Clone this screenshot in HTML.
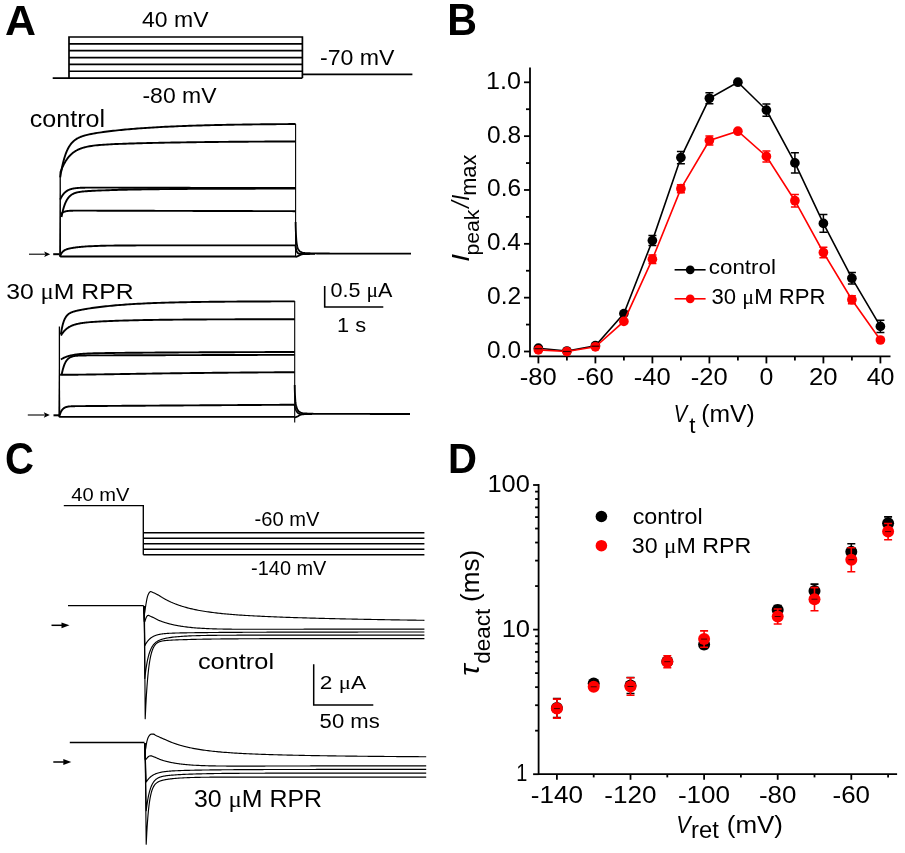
<!DOCTYPE html>
<html><head><meta charset="utf-8"><style>
html,body{margin:0;padding:0;background:#fff;}
svg{display:block;will-change:transform;}
text{font-family:"Liberation Sans", sans-serif;}
</style></head><body>
<svg width="905" height="853" viewBox="0 0 905 853">
<rect width="905" height="853" fill="#fff"/>
<text x="5.13" y="34.80" font-size="42.88" font-weight="bold" font-style="normal" fill="#000" textLength="31.00" lengthAdjust="spacingAndGlyphs">A</text>
<path d="M52.7,78.10 H69 V37 H302.4 V78.10" fill="none" stroke="#000" stroke-width="1.7"/>
<line x1="69.00" y1="43.85" x2="302.40" y2="43.85" stroke="#000" stroke-width="1.7"/>
<line x1="69.00" y1="50.70" x2="302.40" y2="50.70" stroke="#000" stroke-width="1.7"/>
<line x1="69.00" y1="57.55" x2="302.40" y2="57.55" stroke="#000" stroke-width="1.7"/>
<line x1="69.00" y1="64.40" x2="302.40" y2="64.40" stroke="#000" stroke-width="1.7"/>
<line x1="69.00" y1="71.25" x2="302.40" y2="71.25" stroke="#000" stroke-width="1.7"/>
<line x1="69.00" y1="78.10" x2="302.40" y2="78.10" stroke="#000" stroke-width="1.7"/>
<line x1="302.40" y1="74.30" x2="412.40" y2="74.30" stroke="#000" stroke-width="1.7"/>
<text x="142.07" y="27.40" font-size="22.77" font-weight="normal" font-style="normal" fill="#000" textLength="66.43" lengthAdjust="spacingAndGlyphs">40 mV</text>
<text x="142.48" y="102.50" font-size="22.77" font-weight="normal" font-style="normal" fill="#000" textLength="74.02" lengthAdjust="spacingAndGlyphs">-80 mV</text>
<text x="319.97" y="64.50" font-size="22.77" font-weight="normal" font-style="normal" fill="#000" textLength="74.53" lengthAdjust="spacingAndGlyphs">-70 mV</text>
<path d="M60.20,177.46 L60.60,174.99 L61.00,172.67 L61.40,170.50 L61.80,168.45 L62.20,166.53 L62.60,164.73 L63.00,163.03 L63.40,161.44 L63.80,159.94 L64.20,158.53 L64.60,157.20 L65.00,155.95 L65.40,154.78 L65.80,153.67 L66.20,152.63 L66.60,151.65 L67.00,150.73 L67.40,149.85 L67.80,149.03 L68.20,148.26 L68.60,147.53 L69.00,146.84 L69.40,146.19 L69.80,145.57 L70.20,144.99 L70.60,144.44 L71.00,143.92 L71.40,143.43 L71.80,142.96 L72.20,142.52 L72.60,142.10 L73.00,141.71 L73.40,141.33 L73.80,140.97 L74.20,140.63 L74.60,140.31 L75.00,140.00 L75.40,139.71 L75.80,139.43 L76.20,139.17 L76.60,138.91 L77.00,138.67 L77.40,138.44 L77.80,138.22 L78.20,138.01 L78.60,137.80 L79.00,137.61 L79.40,137.42 L79.80,137.25 L80.20,137.07 L80.60,136.91 L81.00,136.75 L81.40,136.60 L81.80,136.45 L82.20,136.31 L82.60,136.17 L83.00,136.03 L83.40,135.91 L83.80,135.78 L84.20,135.66 L84.60,135.54 L85.00,135.43 L85.20,135.37 L87.20,134.85 L89.20,134.40 L91.20,133.98 L93.20,133.61 L95.20,133.26 L97.20,132.93 L99.20,132.62 L101.20,132.33 L103.20,132.05 L105.20,131.78 L107.20,131.52 L109.20,131.28 L111.20,131.04 L113.20,130.81 L115.20,130.58 L117.20,130.37 L119.20,130.16 L121.20,129.96 L123.20,129.76 L125.20,129.57 L127.20,129.39 L129.20,129.21 L131.20,129.04 L133.20,128.87 L135.20,128.71 L137.20,128.55 L139.20,128.40 L141.20,128.25 L143.20,128.11 L145.20,127.97 L147.20,127.84 L149.20,127.71 L151.20,127.58 L153.20,127.46 L155.20,127.34 L157.20,127.23 L159.20,127.12 L161.20,127.01 L163.20,126.90 L165.20,126.80 L167.20,126.70 L169.20,126.61 L171.20,126.52 L173.20,126.43 L175.20,126.34 L177.20,126.26 L179.20,126.17 L181.20,126.09 L183.20,126.02 L185.20,125.94 L187.20,125.87 L189.20,125.80 L191.20,125.73 L193.20,125.67 L195.20,125.61 L197.20,125.54 L199.20,125.48 L201.20,125.43 L203.20,125.37 L205.20,125.32 L207.20,125.26 L209.20,125.21 L211.20,125.16 L213.20,125.11 L215.20,125.07 L217.20,125.02 L219.20,124.98 L221.20,124.94 L223.20,124.90 L225.20,124.86 L227.20,124.82 L229.20,124.78 L231.20,124.74 L233.20,124.71 L235.20,124.67 L237.20,124.64 L239.20,124.61 L241.20,124.58 L243.20,124.55 L245.20,124.52 L247.20,124.49 L249.20,124.46 L251.20,124.44 L253.20,124.41 L255.20,124.39 L257.20,124.36 L259.20,124.34 L261.20,124.32 L263.20,124.29 L265.20,124.27 L267.20,124.25 L269.20,124.23 L271.20,124.21 L273.20,124.19 L275.20,124.18 L277.20,124.16 L279.20,124.14 L281.20,124.12 L283.20,124.11 L285.20,124.09 L287.20,124.08 L289.20,124.06 L291.20,124.05 L293.20,124.03 L295.20,124.02 L295.60,124.02" fill="none" stroke="#000" stroke-width="1.9" stroke-linejoin="round"/>
<path d="M60.50,172.16 L60.90,171.08 L61.30,170.05 L61.70,169.06 L62.10,168.11 L62.50,167.20 L62.90,166.33 L63.30,165.49 L63.70,164.68 L64.10,163.91 L64.50,163.16 L64.90,162.45 L65.30,161.76 L65.70,161.11 L66.10,160.47 L66.50,159.87 L66.90,159.29 L67.30,158.73 L67.70,158.19 L68.10,157.67 L68.50,157.18 L68.90,156.70 L69.30,156.24 L69.70,155.81 L70.10,155.38 L70.50,154.98 L70.90,154.59 L71.30,154.21 L71.70,153.85 L72.10,153.51 L72.50,153.17 L72.90,152.85 L73.30,152.55 L73.70,152.25 L74.10,151.97 L74.50,151.69 L74.90,151.43 L75.30,151.18 L75.70,150.93 L76.10,150.70 L76.50,150.47 L76.90,150.26 L77.30,150.05 L77.70,149.85 L78.10,149.65 L78.50,149.47 L78.90,149.29 L79.30,149.11 L79.70,148.95 L80.10,148.79 L80.50,148.63 L80.90,148.48 L81.30,148.34 L81.70,148.20 L82.10,148.07 L82.50,147.94 L82.90,147.81 L83.30,147.69 L83.70,147.58 L84.10,147.47 L84.50,147.36 L84.90,147.25 L85.30,147.15 L85.50,147.10 L87.50,146.66 L89.50,146.28 L91.50,145.95 L93.50,145.67 L95.50,145.43 L97.50,145.22 L99.50,145.04 L101.50,144.87 L103.50,144.73 L105.50,144.59 L107.50,144.47 L109.50,144.36 L111.50,144.26 L113.50,144.16 L115.50,144.07 L117.50,143.99 L119.50,143.91 L121.50,143.83 L123.50,143.76 L125.50,143.69 L127.50,143.62 L129.50,143.56 L131.50,143.50 L133.50,143.43 L135.50,143.38 L137.50,143.32 L139.50,143.27 L141.50,143.21 L143.50,143.16 L145.50,143.11 L147.50,143.06 L149.50,143.01 L151.50,142.97 L153.50,142.92 L155.50,142.88 L157.50,142.83 L159.50,142.79 L161.50,142.75 L163.50,142.71 L165.50,142.67 L167.50,142.64 L169.50,142.60 L171.50,142.56 L173.50,142.53 L175.50,142.49 L177.50,142.46 L179.50,142.43 L181.50,142.39 L183.50,142.36 L185.50,142.33 L187.50,142.30 L189.50,142.27 L191.50,142.25 L193.50,142.22 L195.50,142.19 L197.50,142.17 L199.50,142.14 L201.50,142.12 L203.50,142.09 L205.50,142.07 L207.50,142.04 L209.50,142.02 L211.50,142.00 L213.50,141.98 L215.50,141.96 L217.50,141.94 L219.50,141.92 L221.50,141.90 L223.50,141.88 L225.50,141.86 L227.50,141.84 L229.50,141.82 L231.50,141.81 L233.50,141.79 L235.50,141.77 L237.50,141.76 L239.50,141.74 L241.50,141.73 L243.50,141.71 L245.50,141.70 L247.50,141.68 L249.50,141.67 L251.50,141.66 L253.50,141.64 L255.50,141.63 L257.50,141.62 L259.50,141.60 L261.50,141.59 L263.50,141.58 L265.50,141.57 L267.50,141.56 L269.50,141.55 L271.50,141.54 L273.50,141.53 L275.50,141.52 L277.50,141.51 L279.50,141.50 L281.50,141.49 L283.50,141.48 L285.50,141.47 L287.50,141.46 L289.50,141.45 L291.50,141.44 L293.50,141.44 L295.50,141.43 L295.60,141.43" fill="none" stroke="#000" stroke-width="1.9" stroke-linejoin="round"/>
<path d="M60.20,199.54 L60.60,198.67 L61.00,197.86 L61.40,197.11 L61.80,196.41 L62.20,195.76 L62.60,195.16 L63.00,194.61 L63.40,194.09 L63.80,193.61 L64.20,193.17 L64.60,192.76 L65.00,192.38 L65.40,192.02 L65.80,191.70 L66.20,191.39 L66.60,191.11 L67.00,190.85 L67.40,190.61 L67.80,190.38 L68.20,190.18 L68.60,189.98 L69.00,189.80 L69.40,189.64 L69.80,189.48 L70.20,189.34 L70.60,189.21 L71.00,189.09 L71.40,188.98 L71.80,188.87 L72.20,188.77 L72.60,188.68 L73.00,188.60 L73.40,188.52 L73.80,188.45 L74.20,188.39 L74.60,188.32 L75.00,188.27 L75.40,188.22 L75.80,188.17 L76.20,188.12 L76.60,188.08 L77.00,188.04 L77.40,188.01 L77.80,187.97 L78.20,187.94 L78.60,187.92 L79.00,187.89 L79.40,187.87 L79.80,187.84 L80.20,187.82 L80.60,187.80 L81.00,187.79 L81.40,187.77 L81.80,187.76 L82.20,187.74 L82.60,187.73 L83.00,187.72 L83.40,187.71 L83.80,187.70 L84.20,187.69 L84.60,187.68 L85.00,187.68 L85.20,187.67 L87.20,187.65 L89.20,187.63 L91.20,187.62 L93.20,187.62 L95.20,187.62 L97.20,187.62 L99.20,187.62 L101.20,187.63 L103.20,187.63 L105.20,187.64 L107.20,187.64 L109.20,187.65 L111.20,187.65 L113.20,187.66 L115.20,187.66 L117.20,187.67 L119.20,187.68 L121.20,187.68 L123.20,187.69 L125.20,187.69 L127.20,187.70 L129.20,187.70 L131.20,187.71 L133.20,187.71 L135.20,187.72 L137.20,187.72 L139.20,187.73 L141.20,187.73 L143.20,187.74 L145.20,187.74 L147.20,187.75 L149.20,187.75 L151.20,187.76 L153.20,187.76 L155.20,187.76 L157.20,187.77 L159.20,187.77 L161.20,187.78 L163.20,187.78 L165.20,187.78 L167.20,187.79 L169.20,187.79 L171.20,187.79 L173.20,187.80 L175.20,187.80 L177.20,187.80 L179.20,187.81 L181.20,187.81 L183.20,187.81 L185.20,187.82 L187.20,187.82 L189.20,187.82 L191.20,187.83 L193.20,187.83 L195.20,187.83 L197.20,187.83 L199.20,187.84 L201.20,187.84 L203.20,187.84 L205.20,187.84 L207.20,187.85 L209.20,187.85 L211.20,187.85 L213.20,187.85 L215.20,187.86 L217.20,187.86 L219.20,187.86 L221.20,187.86 L223.20,187.87 L225.20,187.87 L227.20,187.87 L229.20,187.87 L231.20,187.87 L233.20,187.88 L235.20,187.88 L237.20,187.88 L239.20,187.88 L241.20,187.88 L243.20,187.89 L245.20,187.89 L247.20,187.89 L249.20,187.89 L251.20,187.89 L253.20,187.89 L255.20,187.90 L257.20,187.90 L259.20,187.90 L261.20,187.90 L263.20,187.90 L265.20,187.90 L267.20,187.90 L269.20,187.91 L271.20,187.91 L273.20,187.91 L275.20,187.91 L277.20,187.91 L279.20,187.91 L281.20,187.91 L283.20,187.92 L285.20,187.92 L287.20,187.92 L289.20,187.92 L291.20,187.92 L293.20,187.92 L295.20,187.92 L295.60,187.92" fill="none" stroke="#000" stroke-width="1.9" stroke-linejoin="round"/>
<path d="M61.50,216.99 L61.90,214.96 L62.30,213.10 L62.70,211.38 L63.10,209.81 L63.50,208.36 L63.90,207.03 L64.30,205.81 L64.70,204.68 L65.10,203.64 L65.50,202.69 L65.90,201.81 L66.30,201.00 L66.70,200.26 L67.10,199.57 L67.50,198.94 L67.90,198.36 L68.30,197.82 L68.70,197.33 L69.10,196.87 L69.50,196.45 L69.90,196.07 L70.30,195.71 L70.70,195.38 L71.10,195.07 L71.50,194.79 L71.90,194.53 L72.30,194.28 L72.70,194.06 L73.10,193.85 L73.50,193.66 L73.90,193.48 L74.30,193.32 L74.70,193.16 L75.10,193.02 L75.50,192.89 L75.90,192.76 L76.30,192.65 L76.70,192.54 L77.10,192.44 L77.50,192.34 L77.90,192.25 L78.30,192.17 L78.70,192.09 L79.10,192.02 L79.50,191.95 L79.90,191.89 L80.30,191.82 L80.70,191.77 L81.10,191.71 L81.50,191.66 L81.90,191.61 L82.30,191.56 L82.70,191.52 L83.10,191.48 L83.50,191.44 L83.90,191.40 L84.30,191.36 L84.70,191.33 L85.10,191.29 L85.50,191.26 L85.90,191.23 L86.30,191.20 L86.50,191.18 L88.50,191.05 L90.50,190.93 L92.50,190.82 L94.50,190.73 L96.50,190.64 L98.50,190.55 L100.50,190.48 L102.50,190.40 L104.50,190.33 L106.50,190.26 L108.50,190.20 L110.50,190.13 L112.50,190.07 L114.50,190.02 L116.50,189.96 L118.50,189.91 L120.50,189.86 L122.50,189.81 L124.50,189.76 L126.50,189.72 L128.50,189.67 L130.50,189.63 L132.50,189.59 L134.50,189.55 L136.50,189.52 L138.50,189.48 L140.50,189.45 L142.50,189.41 L144.50,189.38 L146.50,189.35 L148.50,189.32 L150.50,189.29 L152.50,189.26 L154.50,189.24 L156.50,189.21 L158.50,189.19 L160.50,189.17 L162.50,189.14 L164.50,189.12 L166.50,189.10 L168.50,189.08 L170.50,189.06 L172.50,189.04 L174.50,189.03 L176.50,189.01 L178.50,188.99 L180.50,188.98 L182.50,188.96 L184.50,188.95 L186.50,188.93 L188.50,188.92 L190.50,188.91 L192.50,188.90 L194.50,188.88 L196.50,188.87 L198.50,188.86 L200.50,188.85 L202.50,188.84 L204.50,188.83 L206.50,188.82 L208.50,188.81 L210.50,188.80 L212.50,188.80 L214.50,188.79 L216.50,188.78 L218.50,188.77 L220.50,188.76 L222.50,188.76 L224.50,188.75 L226.50,188.74 L228.50,188.74 L230.50,188.73 L232.50,188.73 L234.50,188.72 L236.50,188.72 L238.50,188.71 L240.50,188.71 L242.50,188.70 L244.50,188.70 L246.50,188.69 L248.50,188.69 L250.50,188.69 L252.50,188.68 L254.50,188.68 L256.50,188.67 L258.50,188.67 L260.50,188.67 L262.50,188.66 L264.50,188.66 L266.50,188.66 L268.50,188.66 L270.50,188.65 L272.50,188.65 L274.50,188.65 L276.50,188.65 L278.50,188.64 L280.50,188.64 L282.50,188.64 L284.50,188.64 L286.50,188.63 L288.50,188.63 L290.50,188.63 L292.50,188.63 L294.50,188.63 L295.60,188.63" fill="none" stroke="#000" stroke-width="1.9" stroke-linejoin="round"/>
<path d="M60.80,214.37 L61.20,213.89 L61.60,213.48 L62.00,213.12 L62.40,212.80 L62.80,212.52 L63.20,212.28 L63.60,212.07 L64.00,211.88 L64.40,211.72 L64.80,211.58 L65.20,211.46 L65.60,211.35 L66.00,211.25 L66.40,211.17 L66.80,211.10 L67.20,211.04 L67.60,210.98 L68.00,210.94 L68.40,210.89 L68.80,210.86 L69.20,210.83 L69.60,210.80 L70.00,210.78 L70.40,210.75 L70.80,210.74 L71.20,210.72 L71.60,210.71 L72.00,210.70 L72.40,210.69 L72.80,210.68 L73.20,210.67 L73.60,210.66 L74.00,210.66 L74.40,210.65 L74.80,210.65 L75.20,210.65 L75.60,210.64 L76.00,210.64 L76.40,210.64 L76.80,210.64 L77.20,210.64 L77.60,210.64 L78.00,210.64 L78.40,210.64 L78.80,210.63 L79.20,210.63 L79.60,210.63 L80.00,210.64 L80.40,210.64 L80.80,210.64 L81.20,210.64 L81.60,210.64 L82.00,210.64 L82.40,210.64 L82.80,210.64 L83.20,210.64 L83.60,210.64 L84.00,210.64 L84.40,210.64 L84.80,210.64 L85.20,210.64 L85.60,210.65 L85.80,210.65 L87.80,210.65 L89.80,210.66 L91.80,210.66 L93.80,210.67 L95.80,210.67 L97.80,210.68 L99.80,210.68 L101.80,210.69 L103.80,210.69 L105.80,210.70 L107.80,210.70 L109.80,210.71 L111.80,210.71 L113.80,210.72 L115.80,210.72 L117.80,210.73 L119.80,210.74 L121.80,210.74 L123.80,210.75 L125.80,210.75 L127.80,210.76 L129.80,210.76 L131.80,210.77 L133.80,210.77 L135.80,210.78 L137.80,210.78 L139.80,210.79 L141.80,210.79 L143.80,210.80 L145.80,210.80 L147.80,210.81 L149.80,210.81 L151.80,210.82 L153.80,210.82 L155.80,210.83 L157.80,210.83 L159.80,210.84 L161.80,210.85 L163.80,210.85 L165.80,210.86 L167.80,210.86 L169.80,210.87 L171.80,210.87 L173.80,210.88 L175.80,210.88 L177.80,210.89 L179.80,210.89 L181.80,210.90 L183.80,210.90 L185.80,210.91 L187.80,210.91 L189.80,210.92 L191.80,210.92 L193.80,210.93 L195.80,210.93 L197.80,210.94 L199.80,210.94 L201.80,210.95 L203.80,210.95 L205.80,210.96 L207.80,210.96 L209.80,210.97 L211.80,210.97 L213.80,210.98 L215.80,210.98 L217.80,210.99 L219.80,210.99 L221.80,211.00 L223.80,211.00 L225.80,211.01 L227.80,211.01 L229.80,211.02 L231.80,211.02 L233.80,211.03 L235.80,211.03 L237.80,211.04 L239.80,211.04 L241.80,211.05 L243.80,211.05 L245.80,211.06 L247.80,211.06 L249.80,211.07 L251.80,211.07 L253.80,211.08 L255.80,211.08 L257.80,211.09 L259.80,211.09 L261.80,211.10 L263.80,211.10 L265.80,211.11 L267.80,211.11 L269.80,211.12 L271.80,211.12 L273.80,211.13 L275.80,211.13 L277.80,211.14 L279.80,211.14 L281.80,211.15 L283.80,211.15 L285.80,211.16 L287.80,211.16 L289.80,211.17 L291.80,211.17 L293.80,211.18 L295.60,211.18" fill="none" stroke="#000" stroke-width="1.9" stroke-linejoin="round"/>
<path d="M60.00,256.29 L60.40,255.31 L60.80,254.46 L61.20,253.73 L61.60,253.09 L62.00,252.54 L62.40,252.06 L62.80,251.63 L63.20,251.26 L63.60,250.93 L64.00,250.64 L64.40,250.38 L64.80,250.15 L65.20,249.94 L65.60,249.75 L66.00,249.57 L66.40,249.41 L66.80,249.27 L67.20,249.13 L67.60,249.01 L68.00,248.89 L68.40,248.78 L68.80,248.68 L69.20,248.58 L69.60,248.48 L70.00,248.40 L70.40,248.31 L70.80,248.23 L71.20,248.16 L71.60,248.08 L72.00,248.01 L72.40,247.94 L72.80,247.88 L73.20,247.81 L73.60,247.75 L74.00,247.69 L74.40,247.63 L74.80,247.57 L75.20,247.52 L75.60,247.47 L76.00,247.41 L76.40,247.36 L76.80,247.31 L77.20,247.27 L77.60,247.22 L78.00,247.17 L78.40,247.13 L78.80,247.09 L79.20,247.05 L79.60,247.00 L80.00,246.96 L80.40,246.93 L80.80,246.89 L81.20,246.85 L81.60,246.81 L82.00,246.78 L82.40,246.75 L82.80,246.71 L83.20,246.68 L83.60,246.65 L84.00,246.62 L84.40,246.59 L84.80,246.56 L85.00,246.54 L87.00,246.41 L89.00,246.29 L91.00,246.18 L93.00,246.09 L95.00,246.00 L97.00,245.93 L99.00,245.87 L101.00,245.81 L103.00,245.76 L105.00,245.71 L107.00,245.67 L109.00,245.64 L111.00,245.61 L113.00,245.58 L115.00,245.56 L117.00,245.54 L119.00,245.52 L121.00,245.50 L123.00,245.49 L125.00,245.47 L127.00,245.46 L129.00,245.45 L131.00,245.44 L133.00,245.43 L135.00,245.43 L137.00,245.42 L139.00,245.42 L141.00,245.41 L143.00,245.41 L145.00,245.40 L147.00,245.40 L149.00,245.40 L151.00,245.39 L153.00,245.39 L155.00,245.39 L157.00,245.39 L159.00,245.39 L161.00,245.38 L163.00,245.38 L165.00,245.38 L167.00,245.38 L169.00,245.38 L171.00,245.38 L173.00,245.38 L175.00,245.38 L177.00,245.38 L179.00,245.38 L181.00,245.38 L183.00,245.38 L185.00,245.38 L187.00,245.38 L189.00,245.38 L191.00,245.38 L193.00,245.37 L195.00,245.37 L197.00,245.37 L199.00,245.37 L201.00,245.37 L203.00,245.37 L205.00,245.37 L207.00,245.37 L209.00,245.37 L211.00,245.37 L213.00,245.37 L215.00,245.37 L217.00,245.37 L219.00,245.37 L221.00,245.37 L223.00,245.37 L225.00,245.37 L227.00,245.37 L229.00,245.37 L231.00,245.37 L233.00,245.37 L235.00,245.37 L237.00,245.37 L239.00,245.37 L241.00,245.37 L243.00,245.37 L245.00,245.37 L247.00,245.37 L249.00,245.37 L251.00,245.37 L253.00,245.37 L255.00,245.37 L257.00,245.37 L259.00,245.37 L261.00,245.37 L263.00,245.37 L265.00,245.37 L267.00,245.37 L269.00,245.37 L271.00,245.37 L273.00,245.37 L275.00,245.37 L277.00,245.37 L279.00,245.37 L281.00,245.37 L283.00,245.37 L285.00,245.37 L287.00,245.37 L289.00,245.37 L291.00,245.37 L293.00,245.37 L295.00,245.37 L295.60,245.37" fill="none" stroke="#000" stroke-width="1.9" stroke-linejoin="round"/>
<line x1="60.20" y1="256.50" x2="295.60" y2="256.50" stroke="#000" stroke-width="1.9"/>
<path d="M59.30,256.50 L60.20,171.80 L61.10,256.50 Z" fill="#000"/>
<line x1="60.20" y1="257.00" x2="60.20" y2="171.80" stroke="#000" stroke-width="1.3"/>
<line x1="295.60" y1="124.10" x2="295.60" y2="257.30" stroke="#000" stroke-width="1.1"/>
<path d="M295.60,222.00 L295.60,223.02 L295.61,224.03 L295.63,225.04 L295.65,226.06 L295.67,227.07 L295.71,228.08 L295.74,229.09 L295.78,230.10 L295.82,231.11 L295.87,232.12 L295.92,233.13 L295.97,234.14 L296.03,235.15 L296.09,236.15 L296.15,237.16 L296.21,238.16 L296.28,239.18 L296.36,240.21 L296.46,241.23 L296.57,242.26 L296.70,243.29 L296.85,244.30 L297.02,245.29 L297.21,246.26 L297.43,247.20 L297.70,248.15 L298.13,249.14 L298.69,250.10 L299.33,250.92 L300.01,251.51 L300.79,251.93 L301.73,252.30 L302.76,252.61 L303.82,252.85 L304.85,252.99 L305.84,253.06 L306.84,253.12 L307.83,253.18 L308.84,253.23 L309.85,253.27 L310.86,253.32 L311.87,253.35 L312.89,253.39 L313.91,253.42 L314.93,253.44 L315.94,253.46 L316.96,253.48 L317.98,253.49 L318.99,253.50 L320.01,253.50 L321.02,253.50 L322.03,253.51 L323.04,253.51 L324.05,253.51 L325.06,253.51 L326.07,253.52 L327.08,253.52 L328.09,253.52 L329.10,253.52 L330.11,253.53 L331.12,253.53 L332.14,253.53 L333.15,253.53 L334.16,253.53 L335.17,253.54 L336.18,253.54 L337.19,253.54 L338.20,253.54 L339.21,253.54 L340.22,253.55 L341.23,253.55 L342.24,253.55 L343.25,253.55 L344.26,253.55 L345.28,253.56 L346.29,253.56 L347.30,253.56 L348.31,253.56 L349.32,253.56 L350.33,253.56 L351.34,253.56 L352.35,253.57 L353.36,253.57 L354.37,253.57 L355.38,253.57 L356.40,253.57 L357.41,253.57 L358.42,253.57 L359.43,253.57 L360.44,253.58 L361.45,253.58 L362.46,253.58 L363.47,253.58 L364.48,253.58 L365.49,253.58 L366.51,253.58 L367.52,253.58 L368.53,253.58 L369.54,253.58 L370.55,253.59 L371.56,253.59 L372.57,253.59 L373.58,253.59 L374.59,253.59 L375.60,253.59 L376.62,253.59 L377.63,253.59 L378.64,253.59 L379.65,253.59 L380.66,253.59 L381.67,253.59 L382.68,253.59 L383.69,253.59 L384.70,253.59 L385.72,253.60 L386.73,253.60 L387.74,253.60 L388.75,253.60 L389.76,253.60 L390.77,253.60 L391.78,253.60 L392.79,253.60 L393.81,253.60 L394.82,253.60 L395.83,253.60 L396.84,253.60 L397.85,253.60 L398.86,253.60 L399.87,253.60 L400.89,253.60 L401.90,253.60 L402.91,253.60 L403.92,253.60 L404.93,253.60 L405.94,253.60 L406.95,253.60 L407.97,253.60 L408.98,253.60 L409.99,253.60 L411.00,253.60" fill="none" stroke="#000" stroke-width="1.8"/>
<path d="M295.60,246.00 L295.65,247.17 L295.80,248.28 L296.01,249.33 L296.29,250.33 L296.61,251.28 L297.17,252.32 L297.94,253.19 L298.78,253.57 L299.76,253.75 L300.87,253.89 L302.02,253.98 L303.13,254.00 L304.21,254.00 L305.29,254.00 L306.36,254.00 L307.44,253.99 L308.52,253.98 L309.60,253.97 L310.67,253.95 L311.75,253.92 L312.84,253.89 L313.92,253.85 L315.00,253.80" fill="none" stroke="#000" stroke-width="1.8"/>
<path d="M295.60,257.00 L296.66,256.56 L297.73,256.12 L298.78,255.63 L299.83,255.08 L300.88,254.59 L301.96,254.30 L303.06,254.18 L304.18,254.07 L305.31,253.97 L306.46,253.90 L307.62,253.85 L308.80,253.81 L310.00,253.80" fill="none" stroke="#000" stroke-width="1.8"/>
<line x1="29.00" y1="254.20" x2="45.20" y2="254.20" stroke="#000" stroke-width="1.1"/>
<path d="M50.20,254.20 L44.20,251.40 L45.40,254.20 L44.20,257.00 Z" fill="#000"/>
<line x1="53.20" y1="254.20" x2="59.50" y2="254.20" stroke="#000" stroke-width="2.0"/>
<text x="29.84" y="126.60" font-size="24.15" font-weight="normal" font-style="normal" fill="#000" textLength="75.24" lengthAdjust="spacingAndGlyphs">control</text>
<path d="M60.90,334.11 L61.30,331.58 L61.70,329.34 L62.10,327.37 L62.50,325.63 L62.90,324.09 L63.30,322.73 L63.70,321.52 L64.10,320.45 L64.50,319.50 L64.90,318.66 L65.30,317.90 L65.70,317.23 L66.10,316.63 L66.50,316.09 L66.90,315.61 L67.30,315.17 L67.70,314.78 L68.10,314.42 L68.50,314.10 L68.90,313.80 L69.30,313.53 L69.70,313.28 L70.10,313.06 L70.50,312.85 L70.90,312.65 L71.30,312.47 L71.70,312.30 L72.10,312.14 L72.50,311.99 L72.90,311.85 L73.30,311.72 L73.70,311.59 L74.10,311.47 L74.50,311.35 L74.90,311.24 L75.30,311.13 L75.70,311.03 L76.10,310.93 L76.50,310.83 L76.90,310.73 L77.30,310.64 L77.70,310.55 L78.10,310.46 L78.50,310.37 L78.90,310.29 L79.30,310.21 L79.70,310.12 L80.10,310.04 L80.50,309.96 L80.90,309.89 L81.30,309.81 L81.70,309.73 L82.10,309.66 L82.50,309.58 L82.90,309.51 L83.30,309.44 L83.70,309.37 L84.10,309.30 L84.50,309.23 L84.90,309.16 L85.30,309.09 L85.70,309.02 L85.90,308.99 L87.90,308.66 L89.90,308.35 L91.90,308.05 L93.90,307.76 L95.90,307.49 L97.90,307.23 L99.90,306.98 L101.90,306.74 L103.90,306.51 L105.90,306.29 L107.90,306.08 L109.90,305.88 L111.90,305.68 L113.90,305.50 L115.90,305.32 L117.90,305.15 L119.90,304.99 L121.90,304.83 L123.90,304.68 L125.90,304.54 L127.90,304.40 L129.90,304.27 L131.90,304.14 L133.90,304.02 L135.90,303.91 L137.90,303.80 L139.90,303.69 L141.90,303.59 L143.90,303.49 L145.90,303.40 L147.90,303.31 L149.90,303.22 L151.90,303.14 L153.90,303.06 L155.90,302.99 L157.90,302.92 L159.90,302.85 L161.90,302.78 L163.90,302.72 L165.90,302.66 L167.90,302.60 L169.90,302.54 L171.90,302.49 L173.90,302.44 L175.90,302.39 L177.90,302.34 L179.90,302.30 L181.90,302.26 L183.90,302.22 L185.90,302.18 L187.90,302.14 L189.90,302.10 L191.90,302.07 L193.90,302.03 L195.90,302.00 L197.90,301.97 L199.90,301.94 L201.90,301.92 L203.90,301.89 L205.90,301.86 L207.90,301.84 L209.90,301.82 L211.90,301.79 L213.90,301.77 L215.90,301.75 L217.90,301.73 L219.90,301.71 L221.90,301.69 L223.90,301.68 L225.90,301.66 L227.90,301.64 L229.90,301.63 L231.90,301.61 L233.90,301.60 L235.90,301.59 L237.90,301.57 L239.90,301.56 L241.90,301.55 L243.90,301.54 L245.90,301.53 L247.90,301.52 L249.90,301.51 L251.90,301.50 L253.90,301.49 L255.90,301.48 L257.90,301.47 L259.90,301.46 L261.90,301.46 L263.90,301.45 L265.90,301.44 L267.90,301.44 L269.90,301.43 L271.90,301.42 L273.90,301.42 L275.90,301.41 L277.90,301.41 L279.90,301.40 L281.90,301.40 L283.90,301.39 L285.90,301.39 L287.90,301.38 L289.90,301.38 L291.90,301.37 L293.90,301.37 L294.70,301.37" fill="none" stroke="#000" stroke-width="1.9" stroke-linejoin="round"/>
<path d="M60.90,335.58 L61.30,334.92 L61.70,334.29 L62.10,333.70 L62.50,333.13 L62.90,332.60 L63.30,332.09 L63.70,331.61 L64.10,331.15 L64.50,330.72 L64.90,330.31 L65.30,329.92 L65.70,329.54 L66.10,329.19 L66.50,328.86 L66.90,328.54 L67.30,328.24 L67.70,327.95 L68.10,327.68 L68.50,327.42 L68.90,327.17 L69.30,326.93 L69.70,326.71 L70.10,326.49 L70.50,326.29 L70.90,326.10 L71.30,325.91 L71.70,325.74 L72.10,325.57 L72.50,325.41 L72.90,325.25 L73.30,325.11 L73.70,324.97 L74.10,324.83 L74.50,324.70 L74.90,324.58 L75.30,324.46 L75.70,324.35 L76.10,324.24 L76.50,324.14 L76.90,324.04 L77.30,323.95 L77.70,323.85 L78.10,323.77 L78.50,323.68 L78.90,323.60 L79.30,323.52 L79.70,323.45 L80.10,323.38 L80.50,323.31 L80.90,323.24 L81.30,323.17 L81.70,323.11 L82.10,323.05 L82.50,322.99 L82.90,322.93 L83.30,322.88 L83.70,322.83 L84.10,322.77 L84.50,322.73 L84.90,322.68 L85.30,322.63 L85.70,322.58 L85.90,322.56 L87.90,322.35 L89.90,322.17 L91.90,322.01 L93.90,321.86 L95.90,321.73 L97.90,321.61 L99.90,321.49 L101.90,321.39 L103.90,321.29 L105.90,321.19 L107.90,321.11 L109.90,321.02 L111.90,320.94 L113.90,320.87 L115.90,320.80 L117.90,320.73 L119.90,320.66 L121.90,320.60 L123.90,320.54 L125.90,320.48 L127.90,320.43 L129.90,320.38 L131.90,320.33 L133.90,320.28 L135.90,320.24 L137.90,320.19 L139.90,320.15 L141.90,320.11 L143.90,320.07 L145.90,320.03 L147.90,320.00 L149.90,319.97 L151.90,319.93 L153.90,319.90 L155.90,319.87 L157.90,319.85 L159.90,319.82 L161.90,319.79 L163.90,319.77 L165.90,319.74 L167.90,319.72 L169.90,319.70 L171.90,319.68 L173.90,319.66 L175.90,319.64 L177.90,319.62 L179.90,319.60 L181.90,319.59 L183.90,319.57 L185.90,319.55 L187.90,319.54 L189.90,319.53 L191.90,319.51 L193.90,319.50 L195.90,319.49 L197.90,319.48 L199.90,319.46 L201.90,319.45 L203.90,319.44 L205.90,319.43 L207.90,319.42 L209.90,319.41 L211.90,319.41 L213.90,319.40 L215.90,319.39 L217.90,319.38 L219.90,319.37 L221.90,319.37 L223.90,319.36 L225.90,319.35 L227.90,319.35 L229.90,319.34 L231.90,319.34 L233.90,319.33 L235.90,319.32 L237.90,319.32 L239.90,319.31 L241.90,319.31 L243.90,319.31 L245.90,319.30 L247.90,319.30 L249.90,319.29 L251.90,319.29 L253.90,319.29 L255.90,319.28 L257.90,319.28 L259.90,319.28 L261.90,319.27 L263.90,319.27 L265.90,319.27 L267.90,319.27 L269.90,319.26 L271.90,319.26 L273.90,319.26 L275.90,319.26 L277.90,319.25 L279.90,319.25 L281.90,319.25 L283.90,319.25 L285.90,319.25 L287.90,319.25 L289.90,319.24 L291.90,319.24 L293.90,319.24 L294.70,319.24" fill="none" stroke="#000" stroke-width="1.9" stroke-linejoin="round"/>
<path d="M60.90,359.49 L61.30,359.23 L61.70,358.98 L62.10,358.75 L62.50,358.52 L62.90,358.30 L63.30,358.09 L63.70,357.89 L64.10,357.70 L64.50,357.51 L64.90,357.34 L65.30,357.17 L65.70,357.01 L66.10,356.85 L66.50,356.70 L66.90,356.56 L67.30,356.42 L67.70,356.29 L68.10,356.16 L68.50,356.04 L68.90,355.93 L69.30,355.82 L69.70,355.71 L70.10,355.61 L70.50,355.51 L70.90,355.41 L71.30,355.32 L71.70,355.24 L72.10,355.15 L72.50,355.07 L72.90,355.00 L73.30,354.92 L73.70,354.85 L74.10,354.79 L74.50,354.72 L74.90,354.66 L75.30,354.60 L75.70,354.54 L76.10,354.48 L76.50,354.43 L76.90,354.38 L77.30,354.33 L77.70,354.28 L78.10,354.24 L78.50,354.19 L78.90,354.15 L79.30,354.11 L79.70,354.07 L80.10,354.03 L80.50,354.00 L80.90,353.96 L81.30,353.93 L81.70,353.90 L82.10,353.87 L82.50,353.84 L82.90,353.81 L83.30,353.78 L83.70,353.75 L84.10,353.73 L84.50,353.70 L84.90,353.68 L85.30,353.65 L85.70,353.63 L85.90,353.62 L87.90,353.52 L89.90,353.43 L91.90,353.36 L93.90,353.30 L95.90,353.24 L97.90,353.20 L99.90,353.15 L101.90,353.12 L103.90,353.08 L105.90,353.05 L107.90,353.02 L109.90,352.99 L111.90,352.97 L113.90,352.94 L115.90,352.92 L117.90,352.90 L119.90,352.88 L121.90,352.85 L123.90,352.83 L125.90,352.82 L127.90,352.80 L129.90,352.78 L131.90,352.76 L133.90,352.74 L135.90,352.73 L137.90,352.71 L139.90,352.69 L141.90,352.68 L143.90,352.66 L145.90,352.65 L147.90,352.63 L149.90,352.62 L151.90,352.60 L153.90,352.59 L155.90,352.57 L157.90,352.56 L159.90,352.55 L161.90,352.53 L163.90,352.52 L165.90,352.51 L167.90,352.49 L169.90,352.48 L171.90,352.47 L173.90,352.46 L175.90,352.45 L177.90,352.43 L179.90,352.42 L181.90,352.41 L183.90,352.40 L185.90,352.39 L187.90,352.38 L189.90,352.37 L191.90,352.36 L193.90,352.35 L195.90,352.34 L197.90,352.33 L199.90,352.32 L201.90,352.31 L203.90,352.30 L205.90,352.29 L207.90,352.28 L209.90,352.27 L211.90,352.26 L213.90,352.25 L215.90,352.25 L217.90,352.24 L219.90,352.23 L221.90,352.22 L223.90,352.21 L225.90,352.21 L227.90,352.20 L229.90,352.19 L231.90,352.18 L233.90,352.18 L235.90,352.17 L237.90,352.16 L239.90,352.15 L241.90,352.15 L243.90,352.14 L245.90,352.13 L247.90,352.13 L249.90,352.12 L251.90,352.12 L253.90,352.11 L255.90,352.10 L257.90,352.10 L259.90,352.09 L261.90,352.09 L263.90,352.08 L265.90,352.07 L267.90,352.07 L269.90,352.06 L271.90,352.06 L273.90,352.05 L275.90,352.05 L277.90,352.04 L279.90,352.04 L281.90,352.03 L283.90,352.03 L285.90,352.02 L287.90,352.02 L289.90,352.01 L291.90,352.01 L293.90,352.01 L294.70,352.00" fill="none" stroke="#000" stroke-width="1.9" stroke-linejoin="round"/>
<path d="M61.60,375.06 L62.00,373.05 L62.40,371.24 L62.80,369.61 L63.20,368.16 L63.60,366.85 L64.00,365.68 L64.40,364.62 L64.80,363.68 L65.20,362.83 L65.60,362.07 L66.00,361.39 L66.40,360.78 L66.80,360.23 L67.20,359.74 L67.60,359.30 L68.00,358.90 L68.40,358.55 L68.80,358.23 L69.20,357.94 L69.60,357.68 L70.00,357.45 L70.40,357.24 L70.80,357.06 L71.20,356.89 L71.60,356.74 L72.00,356.61 L72.40,356.49 L72.80,356.38 L73.20,356.28 L73.60,356.19 L74.00,356.11 L74.40,356.04 L74.80,355.98 L75.20,355.92 L75.60,355.87 L76.00,355.83 L76.40,355.78 L76.80,355.75 L77.20,355.71 L77.60,355.68 L78.00,355.66 L78.40,355.63 L78.80,355.61 L79.20,355.59 L79.60,355.57 L80.00,355.55 L80.40,355.54 L80.80,355.53 L81.20,355.51 L81.60,355.50 L82.00,355.49 L82.40,355.48 L82.80,355.48 L83.20,355.47 L83.60,355.46 L84.00,355.46 L84.40,355.45 L84.80,355.44 L85.20,355.44 L85.60,355.43 L86.00,355.43 L86.40,355.43 L86.60,355.42 L88.60,355.41 L90.60,355.40 L92.60,355.39 L94.60,355.38 L96.60,355.38 L98.60,355.37 L100.60,355.36 L102.60,355.36 L104.60,355.35 L106.60,355.34 L108.60,355.34 L110.60,355.33 L112.60,355.33 L114.60,355.32 L116.60,355.32 L118.60,355.31 L120.60,355.30 L122.60,355.30 L124.60,355.29 L126.60,355.29 L128.60,355.28 L130.60,355.28 L132.60,355.27 L134.60,355.26 L136.60,355.26 L138.60,355.25 L140.60,355.25 L142.60,355.24 L144.60,355.24 L146.60,355.23 L148.60,355.22 L150.60,355.22 L152.60,355.21 L154.60,355.21 L156.60,355.20 L158.60,355.20 L160.60,355.19 L162.60,355.19 L164.60,355.18 L166.60,355.17 L168.60,355.17 L170.60,355.16 L172.60,355.16 L174.60,355.15 L176.60,355.15 L178.60,355.14 L180.60,355.13 L182.60,355.13 L184.60,355.12 L186.60,355.12 L188.60,355.11 L190.60,355.11 L192.60,355.10 L194.60,355.10 L196.60,355.09 L198.60,355.08 L200.60,355.08 L202.60,355.07 L204.60,355.07 L206.60,355.06 L208.60,355.06 L210.60,355.05 L212.60,355.05 L214.60,355.04 L216.60,355.04 L218.60,355.03 L220.60,355.02 L222.60,355.02 L224.60,355.01 L226.60,355.01 L228.60,355.00 L230.60,355.00 L232.60,354.99 L234.60,354.99 L236.60,354.98 L238.60,354.98 L240.60,354.97 L242.60,354.96 L244.60,354.96 L246.60,354.95 L248.60,354.95 L250.60,354.94 L252.60,354.94 L254.60,354.93 L256.60,354.93 L258.60,354.92 L260.60,354.92 L262.60,354.91 L264.60,354.91 L266.60,354.90 L268.60,354.89 L270.60,354.89 L272.60,354.88 L274.60,354.88 L276.60,354.87 L278.60,354.87 L280.60,354.86 L282.60,354.86 L284.60,354.85 L286.60,354.85 L288.60,354.84 L290.60,354.84 L292.60,354.83 L294.60,354.83 L294.70,354.83" fill="none" stroke="#000" stroke-width="1.9" stroke-linejoin="round"/>
<path d="M60.10,374.82 L60.50,374.82 L60.90,374.82 L61.30,374.81 L61.70,374.81 L62.10,374.81 L62.50,374.81 L62.90,374.81 L63.30,374.80 L63.70,374.80 L64.10,374.80 L64.50,374.80 L64.90,374.79 L65.30,374.79 L65.70,374.79 L66.10,374.79 L66.50,374.78 L66.90,374.78 L67.30,374.78 L67.70,374.77 L68.10,374.77 L68.50,374.77 L68.90,374.76 L69.30,374.76 L69.70,374.76 L70.10,374.75 L70.50,374.75 L70.90,374.75 L71.30,374.74 L71.70,374.74 L72.10,374.74 L72.50,374.73 L72.90,374.73 L73.30,374.73 L73.70,374.72 L74.10,374.72 L74.50,374.71 L74.90,374.71 L75.30,374.71 L75.70,374.70 L76.10,374.70 L76.50,374.69 L76.90,374.69 L77.30,374.68 L77.70,374.68 L78.10,374.68 L78.50,374.67 L78.90,374.67 L79.30,374.66 L79.70,374.66 L80.10,374.65 L80.50,374.65 L80.90,374.64 L81.30,374.64 L81.70,374.63 L82.10,374.63 L82.50,374.62 L82.90,374.62 L83.30,374.61 L83.70,374.61 L84.10,374.60 L84.50,374.60 L84.90,374.59 L85.10,374.59 L87.10,374.56 L89.10,374.54 L91.10,374.51 L93.10,374.48 L95.10,374.45 L97.10,374.42 L99.10,374.40 L101.10,374.37 L103.10,374.33 L105.10,374.30 L107.10,374.27 L109.10,374.24 L111.10,374.21 L113.10,374.18 L115.10,374.15 L117.10,374.12 L119.10,374.09 L121.10,374.05 L123.10,374.02 L125.10,373.99 L127.10,373.96 L129.10,373.93 L131.10,373.90 L133.10,373.87 L135.10,373.84 L137.10,373.81 L139.10,373.77 L141.10,373.74 L143.10,373.71 L145.10,373.68 L147.10,373.65 L149.10,373.62 L151.10,373.59 L153.10,373.57 L155.10,373.54 L157.10,373.51 L159.10,373.48 L161.10,373.45 L163.10,373.42 L165.10,373.40 L167.10,373.37 L169.10,373.34 L171.10,373.32 L173.10,373.29 L175.10,373.26 L177.10,373.24 L179.10,373.21 L181.10,373.19 L183.10,373.16 L185.10,373.14 L187.10,373.11 L189.10,373.09 L191.10,373.06 L193.10,373.04 L195.10,373.02 L197.10,372.99 L199.10,372.97 L201.10,372.95 L203.10,372.93 L205.10,372.91 L207.10,372.88 L209.10,372.86 L211.10,372.84 L213.10,372.82 L215.10,372.80 L217.10,372.78 L219.10,372.76 L221.10,372.74 L223.10,372.72 L225.10,372.70 L227.10,372.69 L229.10,372.67 L231.10,372.65 L233.10,372.63 L235.10,372.61 L237.10,372.60 L239.10,372.58 L241.10,372.56 L243.10,372.55 L245.10,372.53 L247.10,372.51 L249.10,372.50 L251.10,372.48 L253.10,372.47 L255.10,372.45 L257.10,372.44 L259.10,372.42 L261.10,372.41 L263.10,372.39 L265.10,372.38 L267.10,372.37 L269.10,372.35 L271.10,372.34 L273.10,372.33 L275.10,372.31 L277.10,372.30 L279.10,372.29 L281.10,372.27 L283.10,372.26 L285.10,372.25 L287.10,372.24 L289.10,372.23 L291.10,372.21 L293.10,372.20 L294.70,372.19" fill="none" stroke="#000" stroke-width="1.9" stroke-linejoin="round"/>
<path d="M59.60,415.35 L60.00,414.12 L60.40,413.06 L60.80,412.14 L61.20,411.34 L61.60,410.65 L62.00,410.06 L62.40,409.54 L62.80,409.09 L63.20,408.70 L63.60,408.37 L64.00,408.07 L64.40,407.82 L64.80,407.60 L65.20,407.41 L65.60,407.25 L66.00,407.10 L66.40,406.98 L66.80,406.87 L67.20,406.78 L67.60,406.70 L68.00,406.63 L68.40,406.56 L68.80,406.51 L69.20,406.46 L69.60,406.42 L70.00,406.39 L70.40,406.36 L70.80,406.33 L71.20,406.30 L71.60,406.28 L72.00,406.26 L72.40,406.25 L72.80,406.23 L73.20,406.22 L73.60,406.21 L74.00,406.20 L74.40,406.19 L74.80,406.18 L75.20,406.17 L75.60,406.16 L76.00,406.16 L76.40,406.15 L76.80,406.15 L77.20,406.14 L77.60,406.14 L78.00,406.13 L78.40,406.13 L78.80,406.12 L79.20,406.12 L79.60,406.11 L80.00,406.11 L80.40,406.11 L80.80,406.10 L81.20,406.10 L81.60,406.10 L82.00,406.09 L82.40,406.09 L82.80,406.09 L83.20,406.09 L83.60,406.08 L84.00,406.08 L84.40,406.08 L84.60,406.08 L86.60,406.06 L88.60,406.05 L90.60,406.03 L92.60,406.02 L94.60,406.01 L96.60,405.99 L98.60,405.98 L100.60,405.97 L102.60,405.95 L104.60,405.94 L106.60,405.93 L108.60,405.91 L110.60,405.90 L112.60,405.89 L114.60,405.87 L116.60,405.86 L118.60,405.85 L120.60,405.83 L122.60,405.82 L124.60,405.81 L126.60,405.79 L128.60,405.78 L130.60,405.77 L132.60,405.75 L134.60,405.74 L136.60,405.73 L138.60,405.71 L140.60,405.70 L142.60,405.69 L144.60,405.68 L146.60,405.66 L148.60,405.65 L150.60,405.64 L152.60,405.62 L154.60,405.61 L156.60,405.60 L158.60,405.58 L160.60,405.57 L162.60,405.56 L164.60,405.54 L166.60,405.53 L168.60,405.52 L170.60,405.51 L172.60,405.49 L174.60,405.48 L176.60,405.47 L178.60,405.45 L180.60,405.44 L182.60,405.43 L184.60,405.42 L186.60,405.40 L188.60,405.39 L190.60,405.38 L192.60,405.36 L194.60,405.35 L196.60,405.34 L198.60,405.33 L200.60,405.31 L202.60,405.30 L204.60,405.29 L206.60,405.28 L208.60,405.26 L210.60,405.25 L212.60,405.24 L214.60,405.22 L216.60,405.21 L218.60,405.20 L220.60,405.19 L222.60,405.17 L224.60,405.16 L226.60,405.15 L228.60,405.14 L230.60,405.12 L232.60,405.11 L234.60,405.10 L236.60,405.09 L238.60,405.07 L240.60,405.06 L242.60,405.05 L244.60,405.04 L246.60,405.02 L248.60,405.01 L250.60,405.00 L252.60,404.99 L254.60,404.97 L256.60,404.96 L258.60,404.95 L260.60,404.94 L262.60,404.92 L264.60,404.91 L266.60,404.90 L268.60,404.89 L270.60,404.88 L272.60,404.86 L274.60,404.85 L276.60,404.84 L278.60,404.83 L280.60,404.81 L282.60,404.80 L284.60,404.79 L286.60,404.78 L288.60,404.76 L290.60,404.75 L292.60,404.74 L294.60,404.73 L294.70,404.73" fill="none" stroke="#000" stroke-width="1.9" stroke-linejoin="round"/>
<line x1="59.40" y1="416.90" x2="294.70" y2="416.90" stroke="#000" stroke-width="1.9"/>
<path d="M58.50,416.90 L59.40,326.50 L60.30,416.90 Z" fill="#000"/>
<line x1="59.40" y1="417.40" x2="59.40" y2="326.50" stroke="#000" stroke-width="1.3"/>
<line x1="294.70" y1="301.00" x2="294.70" y2="422.40" stroke="#000" stroke-width="1.1"/>
<path d="M294.70,385.00 L294.70,386.02 L294.71,387.04 L294.73,388.05 L294.75,389.07 L294.78,390.08 L294.81,391.10 L294.85,392.11 L294.89,393.12 L294.94,394.13 L295.00,395.14 L295.05,396.14 L295.11,397.15 L295.18,398.16 L295.24,399.16 L295.31,400.16 L295.40,401.17 L295.53,402.19 L295.68,403.20 L295.86,404.21 L296.06,405.20 L296.29,406.18 L296.54,407.14 L296.86,408.13 L297.28,409.13 L297.78,410.05 L298.34,410.82 L298.99,411.43 L299.82,412.01 L300.78,412.53 L301.78,412.93 L302.78,413.17 L303.74,413.28 L304.71,413.37 L305.70,413.45 L306.71,413.52 L307.72,413.58 L308.74,413.63 L309.77,413.68 L310.80,413.72 L311.83,413.75 L312.86,413.77 L313.88,413.79 L314.90,413.80 L315.91,413.80 L316.92,413.81 L317.93,413.82 L318.94,413.82 L319.95,413.83 L320.96,413.83 L321.97,413.83 L322.98,413.84 L323.99,413.84 L325.01,413.85 L326.02,413.85 L327.03,413.86 L328.04,413.86 L329.05,413.87 L330.06,413.87 L331.07,413.87 L332.08,413.88 L333.09,413.88 L334.11,413.89 L335.12,413.89 L336.13,413.89 L337.14,413.90 L338.15,413.90 L339.16,413.90 L340.17,413.91 L341.18,413.91 L342.20,413.91 L343.21,413.92 L344.22,413.92 L345.23,413.92 L346.24,413.93 L347.25,413.93 L348.26,413.93 L349.28,413.93 L350.29,413.94 L351.30,413.94 L352.31,413.94 L353.32,413.94 L354.33,413.95 L355.34,413.95 L356.36,413.95 L357.37,413.95 L358.38,413.95 L359.39,413.96 L360.40,413.96 L361.41,413.96 L362.43,413.96 L363.44,413.96 L364.45,413.97 L365.46,413.97 L366.47,413.97 L367.48,413.97 L368.50,413.97 L369.51,413.97 L370.52,413.98 L371.53,413.98 L372.54,413.98 L373.55,413.98 L374.57,413.98 L375.58,413.98 L376.59,413.98 L377.60,413.98 L378.61,413.99 L379.63,413.99 L380.64,413.99 L381.65,413.99 L382.66,413.99 L383.68,413.99 L384.69,413.99 L385.70,413.99 L386.71,413.99 L387.72,413.99 L388.74,413.99 L389.75,413.99 L390.76,414.00 L391.77,414.00 L392.79,414.00 L393.80,414.00 L394.81,414.00 L395.82,414.00 L396.84,414.00 L397.85,414.00 L398.86,414.00 L399.87,414.00 L400.89,414.00 L401.90,414.00 L402.91,414.00 L403.92,414.00 L404.94,414.00 L405.95,414.00 L406.96,414.00 L407.97,414.00 L408.99,414.00 L410.00,414.00" fill="none" stroke="#000" stroke-width="1.8"/>
<path d="M294.70,405.00 L294.84,406.13 L295.07,407.21 L295.37,408.27 L295.72,409.28 L296.11,410.27 L296.62,411.32 L297.25,412.29 L297.98,412.99 L298.86,413.45 L299.93,413.85 L301.06,414.12 L302.16,414.20 L303.23,414.20 L304.31,414.20 L305.39,414.19 L306.47,414.18 L307.56,414.16 L308.66,414.14 L309.77,414.10 L310.88,414.06 L312.00,414.00" fill="none" stroke="#000" stroke-width="1.8"/>
<path d="M294.70,417.30 L295.84,417.04 L296.95,416.70 L298.01,416.26 L299.02,415.61 L300.02,414.97 L301.06,414.59 L302.15,414.42 L303.27,414.28 L304.41,414.16 L305.58,414.07 L306.77,414.02 L308.00,414.00" fill="none" stroke="#000" stroke-width="1.8"/>
<line x1="27.80" y1="415.00" x2="44.80" y2="415.00" stroke="#000" stroke-width="1.1"/>
<path d="M49.80,415.00 L43.80,412.20 L45.00,415.00 L43.80,417.80 Z" fill="#000"/>
<line x1="53.50" y1="415.30" x2="59.40" y2="415.30" stroke="#000" stroke-width="2.0"/>
<text x="6.17" y="299.10" font-size="22.91" font-weight="normal" font-style="normal" fill="#000" textLength="127.37" lengthAdjust="spacingAndGlyphs">30 <tspan font-family="Liberation Serif">μ</tspan>M RPR</text>
<path d="M324.7,286 V307 H383.3" fill="none" stroke="#000" stroke-width="1.6"/>
<text x="330.47" y="297.20" font-size="20.19" font-weight="normal" font-style="normal" fill="#000" textLength="61.87" lengthAdjust="spacingAndGlyphs">0.5 <tspan font-family="Liberation Serif">μ</tspan>A</text>
<text x="337.14" y="331.90" font-size="20.49" font-weight="normal" font-style="normal" fill="#000" textLength="29.05" lengthAdjust="spacingAndGlyphs">1 s</text>
<text x="447.35" y="34.90" font-size="43.61" font-weight="bold" font-style="normal" fill="#000" textLength="29.72" lengthAdjust="spacingAndGlyphs">B</text>
<path d="M530,68.5 V356.4 H889.6" fill="none" stroke="#000" stroke-width="1.8" stroke-linecap="square"/>
<line x1="524.00" y1="351.50" x2="530.00" y2="351.50" stroke="#000" stroke-width="1.8"/>
<text x="487.05" y="358.00" font-size="23" font-weight="normal" font-style="normal" fill="#000" textLength="33.91" lengthAdjust="spacingAndGlyphs">0.0</text>
<line x1="526.00" y1="324.58" x2="530.00" y2="324.58" stroke="#000" stroke-width="1.8"/>
<line x1="524.00" y1="297.66" x2="530.00" y2="297.66" stroke="#000" stroke-width="1.8"/>
<text x="487.04" y="304.16" font-size="23" font-weight="normal" font-style="normal" fill="#000" textLength="34.20" lengthAdjust="spacingAndGlyphs">0.2</text>
<line x1="526.00" y1="270.74" x2="530.00" y2="270.74" stroke="#000" stroke-width="1.8"/>
<line x1="524.00" y1="243.82" x2="530.00" y2="243.82" stroke="#000" stroke-width="1.8"/>
<text x="487.05" y="250.32" font-size="23" font-weight="normal" font-style="normal" fill="#000" textLength="33.65" lengthAdjust="spacingAndGlyphs">0.4</text>
<line x1="526.00" y1="216.90" x2="530.00" y2="216.90" stroke="#000" stroke-width="1.8"/>
<line x1="524.00" y1="189.98" x2="530.00" y2="189.98" stroke="#000" stroke-width="1.8"/>
<text x="487.04" y="196.48" font-size="23" font-weight="normal" font-style="normal" fill="#000" textLength="34.03" lengthAdjust="spacingAndGlyphs">0.6</text>
<line x1="526.00" y1="163.06" x2="530.00" y2="163.06" stroke="#000" stroke-width="1.8"/>
<line x1="524.00" y1="136.14" x2="530.00" y2="136.14" stroke="#000" stroke-width="1.8"/>
<text x="487.04" y="142.64" font-size="23" font-weight="normal" font-style="normal" fill="#000" textLength="34.02" lengthAdjust="spacingAndGlyphs">0.8</text>
<line x1="526.00" y1="109.22" x2="530.00" y2="109.22" stroke="#000" stroke-width="1.8"/>
<line x1="524.00" y1="82.30" x2="530.00" y2="82.30" stroke="#000" stroke-width="1.8"/>
<text x="486.09" y="88.80" font-size="23" font-weight="normal" font-style="normal" fill="#000" textLength="34.89" lengthAdjust="spacingAndGlyphs">1.0</text>
<line x1="538.40" y1="356.40" x2="538.40" y2="363.40" stroke="#000" stroke-width="1.8"/>
<text x="519.86" y="385.30" font-size="23" font-weight="normal" font-style="normal" fill="#000" textLength="36.93" lengthAdjust="spacingAndGlyphs">-80</text>
<line x1="566.90" y1="356.40" x2="566.90" y2="360.40" stroke="#000" stroke-width="1.8"/>
<line x1="595.40" y1="356.40" x2="595.40" y2="363.40" stroke="#000" stroke-width="1.8"/>
<text x="576.86" y="385.30" font-size="23" font-weight="normal" font-style="normal" fill="#000" textLength="36.93" lengthAdjust="spacingAndGlyphs">-60</text>
<line x1="623.90" y1="356.40" x2="623.90" y2="360.40" stroke="#000" stroke-width="1.8"/>
<line x1="652.40" y1="356.40" x2="652.40" y2="363.40" stroke="#000" stroke-width="1.8"/>
<text x="633.86" y="385.30" font-size="23" font-weight="normal" font-style="normal" fill="#000" textLength="36.93" lengthAdjust="spacingAndGlyphs">-40</text>
<line x1="680.90" y1="356.40" x2="680.90" y2="360.40" stroke="#000" stroke-width="1.8"/>
<line x1="709.40" y1="356.40" x2="709.40" y2="363.40" stroke="#000" stroke-width="1.8"/>
<text x="690.86" y="385.30" font-size="23" font-weight="normal" font-style="normal" fill="#000" textLength="36.93" lengthAdjust="spacingAndGlyphs">-20</text>
<line x1="737.90" y1="356.40" x2="737.90" y2="360.40" stroke="#000" stroke-width="1.8"/>
<line x1="766.40" y1="356.40" x2="766.40" y2="363.40" stroke="#000" stroke-width="1.8"/>
<text x="759.48" y="385.30" font-size="23" font-weight="normal" font-style="normal" fill="#000" textLength="13.84" lengthAdjust="spacingAndGlyphs">0</text>
<line x1="794.90" y1="356.40" x2="794.90" y2="360.40" stroke="#000" stroke-width="1.8"/>
<line x1="823.40" y1="356.40" x2="823.40" y2="363.40" stroke="#000" stroke-width="1.8"/>
<text x="808.96" y="385.30" font-size="23" font-weight="normal" font-style="normal" fill="#000" textLength="28.60" lengthAdjust="spacingAndGlyphs">20</text>
<line x1="851.90" y1="356.40" x2="851.90" y2="360.40" stroke="#000" stroke-width="1.8"/>
<line x1="880.40" y1="356.40" x2="880.40" y2="363.40" stroke="#000" stroke-width="1.8"/>
<text x="866.68" y="385.30" font-size="23" font-weight="normal" font-style="normal" fill="#000" textLength="27.85" lengthAdjust="spacingAndGlyphs">40</text>
<polyline points="538.40,348.20 566.90,351.00 595.40,345.70 623.90,313.60 652.40,240.60 680.90,157.60 709.40,98.30 737.90,82.20 766.40,110.10 794.90,162.90 823.40,223.40 851.90,278.20 880.40,326.40" fill="none" stroke="#000" stroke-width="1.6"/>
<circle cx="538.40" cy="348.20" r="4.85" fill="#000"/>
<circle cx="566.90" cy="351.00" r="4.85" fill="#000"/>
<circle cx="595.40" cy="345.70" r="4.85" fill="#000"/>
<circle cx="623.90" cy="313.60" r="4.85" fill="#000"/>
<path d="M648.40,235.60 H656.40 M652.40,235.60 V245.60 M648.40,245.60 H656.40" fill="none" stroke="#000" stroke-width="1.5"/>
<circle cx="652.40" cy="240.60" r="4.85" fill="#000"/>
<path d="M676.90,151.40 H684.90 M680.90,151.40 V163.80 M676.90,163.80 H684.90" fill="none" stroke="#000" stroke-width="1.5"/>
<circle cx="680.90" cy="157.60" r="4.85" fill="#000"/>
<path d="M705.40,92.80 H713.40 M709.40,92.80 V103.80 M705.40,103.80 H713.40" fill="none" stroke="#000" stroke-width="1.5"/>
<circle cx="709.40" cy="98.30" r="4.85" fill="#000"/>
<circle cx="737.90" cy="82.20" r="4.85" fill="#000"/>
<path d="M762.40,103.90 H770.40 M766.40,103.90 V116.30 M762.40,116.30 H770.40" fill="none" stroke="#000" stroke-width="1.5"/>
<circle cx="766.40" cy="110.10" r="4.85" fill="#000"/>
<path d="M790.90,152.80 H798.90 M794.90,152.80 V173.00 M790.90,173.00 H798.90" fill="none" stroke="#000" stroke-width="1.5"/>
<circle cx="794.90" cy="162.90" r="4.85" fill="#000"/>
<path d="M819.40,214.60 H827.40 M823.40,214.60 V232.20 M819.40,232.20 H827.40" fill="none" stroke="#000" stroke-width="1.5"/>
<circle cx="823.40" cy="223.40" r="4.85" fill="#000"/>
<path d="M847.90,272.50 H855.90 M851.90,272.50 V283.90 M847.90,283.90 H855.90" fill="none" stroke="#000" stroke-width="1.5"/>
<circle cx="851.90" cy="278.20" r="4.85" fill="#000"/>
<path d="M876.40,320.30 H884.40 M880.40,320.30 V332.50 M876.40,332.50 H884.40" fill="none" stroke="#000" stroke-width="1.5"/>
<circle cx="880.40" cy="326.40" r="4.85" fill="#000"/>
<polyline points="538.40,349.90 566.90,351.50 595.40,346.80 623.90,321.40 652.40,259.20 680.90,188.70 709.40,140.50 737.90,131.20 766.40,156.40 794.90,200.70 823.40,252.50 851.90,299.70 880.40,340.00" fill="none" stroke="#f00" stroke-width="1.6"/>
<circle cx="538.40" cy="349.90" r="4.85" fill="#f00"/>
<circle cx="566.90" cy="351.50" r="4.85" fill="#f00"/>
<circle cx="595.40" cy="346.80" r="4.85" fill="#f00"/>
<circle cx="623.90" cy="321.40" r="4.85" fill="#f00"/>
<path d="M648.40,255.00 H656.40 M652.40,255.00 V263.40 M648.40,263.40 H656.40" fill="none" stroke="#f00" stroke-width="1.5"/>
<circle cx="652.40" cy="259.20" r="4.85" fill="#f00"/>
<path d="M676.90,184.70 H684.90 M680.90,184.70 V192.70 M676.90,192.70 H684.90" fill="none" stroke="#f00" stroke-width="1.5"/>
<circle cx="680.90" cy="188.70" r="4.85" fill="#f00"/>
<path d="M705.40,136.00 H713.40 M709.40,136.00 V145.00 M705.40,145.00 H713.40" fill="none" stroke="#f00" stroke-width="1.5"/>
<circle cx="709.40" cy="140.50" r="4.85" fill="#f00"/>
<circle cx="737.90" cy="131.20" r="4.85" fill="#f00"/>
<path d="M762.40,150.90 H770.40 M766.40,150.90 V161.90 M762.40,161.90 H770.40" fill="none" stroke="#f00" stroke-width="1.5"/>
<circle cx="766.40" cy="156.40" r="4.85" fill="#f00"/>
<path d="M790.90,194.50 H798.90 M794.90,194.50 V206.90 M790.90,206.90 H798.90" fill="none" stroke="#f00" stroke-width="1.5"/>
<circle cx="794.90" cy="200.70" r="4.85" fill="#f00"/>
<path d="M819.40,247.30 H827.40 M823.40,247.30 V257.70 M819.40,257.70 H827.40" fill="none" stroke="#f00" stroke-width="1.5"/>
<circle cx="823.40" cy="252.50" r="4.85" fill="#f00"/>
<path d="M847.90,295.70 H855.90 M851.90,295.70 V303.70 M847.90,303.70 H855.90" fill="none" stroke="#f00" stroke-width="1.5"/>
<circle cx="851.90" cy="299.70" r="4.85" fill="#f00"/>
<circle cx="880.40" cy="340.00" r="4.85" fill="#f00"/>
<line x1="534.40" y1="348.70" x2="542.40" y2="348.70" stroke="#000" stroke-width="1.2" opacity="0.8"/>
<line x1="562.90" y1="351.50" x2="570.90" y2="351.50" stroke="#000" stroke-width="1.2" opacity="0.8"/>
<line x1="591.40" y1="346.20" x2="599.40" y2="346.20" stroke="#000" stroke-width="1.2" opacity="0.8"/>
<line x1="674.60" y1="269.80" x2="705.60" y2="269.80" stroke="#000" stroke-width="1.6"/>
<circle cx="690.2" cy="269.8" r="4.4" fill="#000"/>
<text x="708.75" y="274.00" font-size="20.7" font-weight="normal" font-style="normal" fill="#000" textLength="67.15" lengthAdjust="spacingAndGlyphs">control</text>
<line x1="674.60" y1="298.80" x2="705.60" y2="298.80" stroke="#f00" stroke-width="1.6"/>
<circle cx="690.2" cy="298.8" r="4.4" fill="#f00"/>
<text x="711.56" y="303.50" font-size="21.48" font-weight="normal" font-style="normal" fill="#000" textLength="113.96" lengthAdjust="spacingAndGlyphs">30 <tspan font-family="Liberation Serif">μ</tspan>M RPR</text>
<g transform="rotate(-90)">
<text x="-261.95" y="468.50" font-size="24.56" font-weight="normal" font-style="italic" fill="#000" textLength="8.08" lengthAdjust="spacingAndGlyphs">I</text>
<text x="-255.57" y="479.40" font-size="20" font-weight="normal" font-style="normal" fill="#000" textLength="46.04" lengthAdjust="spacingAndGlyphs">peak</text>
<text x="-207.78" y="468.50" font-size="23.87" font-weight="normal" font-style="italic" fill="#000" textLength="6.48" lengthAdjust="spacingAndGlyphs">/</text>
<text x="-200.91" y="468.50" font-size="24.56" font-weight="normal" font-style="italic" fill="#000" textLength="6.36" lengthAdjust="spacingAndGlyphs">I</text>
<text x="-195.85" y="475.80" font-size="22.12" font-weight="normal" font-style="normal" fill="#000" textLength="41.18" lengthAdjust="spacingAndGlyphs">max</text>
</g>
<text x="673.67" y="422.40" font-size="23.55" font-weight="normal" font-style="italic" fill="#000" textLength="13.38" lengthAdjust="spacingAndGlyphs">V</text>
<text x="689.16" y="432.70" font-size="22" font-weight="normal" font-style="normal" fill="#000" textLength="6.20" lengthAdjust="spacingAndGlyphs">t</text>
<text x="701.27" y="422.40" font-size="23.18" font-weight="normal" font-style="normal" fill="#000" textLength="53.46" lengthAdjust="spacingAndGlyphs">(mV)</text>
<text x="4.96" y="473.88" font-size="43.65" font-weight="bold" font-style="normal" fill="#000" textLength="28.94" lengthAdjust="spacingAndGlyphs">C</text>
<path d="M63.8,505.6 H143.3 V554.7" fill="none" stroke="#000" stroke-width="1.35"/>
<line x1="143.30" y1="532.70" x2="424.40" y2="532.70" stroke="#000" stroke-width="1.35"/>
<line x1="143.30" y1="538.20" x2="424.40" y2="538.20" stroke="#000" stroke-width="1.35"/>
<line x1="143.30" y1="543.70" x2="424.40" y2="543.70" stroke="#000" stroke-width="1.35"/>
<line x1="143.30" y1="549.20" x2="424.40" y2="549.20" stroke="#000" stroke-width="1.35"/>
<line x1="143.30" y1="554.70" x2="424.40" y2="554.70" stroke="#000" stroke-width="1.35"/>
<text x="71.34" y="501.00" font-size="18.9" font-weight="normal" font-style="normal" fill="#000" textLength="58.15" lengthAdjust="spacingAndGlyphs">40 mV</text>
<text x="254.61" y="525.50" font-size="19.91" font-weight="normal" font-style="normal" fill="#000" textLength="64.78" lengthAdjust="spacingAndGlyphs">-60 mV</text>
<text x="251.12" y="575.40" font-size="19.91" font-weight="normal" font-style="normal" fill="#000" textLength="75.27" lengthAdjust="spacingAndGlyphs">-140 mV</text>
<line x1="68.00" y1="605.60" x2="143.50" y2="605.60" stroke="#000" stroke-width="1.4"/>
<path d="M143.50,605.60 L143.57,607.45 L143.65,609.09 L143.73,610.51 L143.83,611.70 L143.93,612.66 L144.04,613.36 L144.16,613.81 L144.28,614.00 L144.41,613.87 L144.55,613.38 L144.70,612.59 L144.87,611.56 L145.04,610.36 L145.23,609.06 L145.42,607.71 L145.61,606.37 L145.80,605.12 L146.00,604.01 L146.19,602.99 L146.37,601.95 L146.55,600.91 L146.73,599.86 L146.93,598.83 L147.15,597.81 L147.40,596.82 L147.69,595.87 L148.02,594.95 L148.47,593.93 L149.07,592.86 L149.77,592.00 L150.53,591.60 L151.41,591.79 L152.43,592.24 L153.40,592.67 L154.34,593.09 L155.27,593.53 L156.19,593.99 L157.10,594.48 L158.00,595.00 L158.00,594.75 L158.30,594.96 L158.60,595.16 L158.90,595.37 L159.20,595.57 L159.50,595.77 L159.80,595.97 L160.10,596.17 L160.40,596.36 L160.70,596.55 L161.00,596.74 L161.30,596.93 L161.60,597.12 L161.90,597.30 L162.20,597.49 L162.50,597.67 L162.80,597.85 L163.10,598.02 L163.40,598.20 L163.70,598.37 L164.00,598.54 L164.30,598.71 L164.60,598.88 L164.90,599.05 L165.20,599.21 L165.50,599.38 L165.80,599.54 L166.10,599.70 L166.40,599.86 L166.70,600.01 L167.00,600.17 L167.30,600.32 L167.60,600.47 L167.90,600.62 L168.20,600.77 L168.50,600.92 L168.80,601.07 L169.10,601.21 L169.40,601.35 L169.70,601.50 L170.00,601.64 L170.30,601.77 L170.60,601.91 L170.90,602.05 L171.20,602.18 L171.50,602.32 L171.80,602.45 L172.10,602.58 L172.40,602.71 L172.70,602.84 L173.00,602.96 L173.30,603.09 L173.60,603.21 L173.90,603.34 L174.20,603.46 L174.50,603.58 L174.80,603.70 L175.10,603.82 L175.40,603.93 L175.70,604.05 L176.00,604.16 L176.30,604.28 L176.60,604.39 L176.90,604.50 L177.20,604.61 L177.50,604.72 L177.80,604.83 L178.10,604.94 L178.40,605.04 L178.70,605.15 L179.00,605.25 L179.30,605.36 L179.60,605.46 L179.90,605.56 L180.20,605.66 L180.50,605.76 L180.80,605.86 L181.10,605.96 L181.40,606.05 L181.70,606.15 L182.00,606.24 L182.30,606.34 L182.60,606.43 L182.90,606.52 L183.00,606.55 L184.50,607.00 L186.00,607.42 L187.50,607.83 L189.00,608.21 L190.50,608.58 L192.00,608.93 L193.50,609.27 L195.00,609.59 L196.50,609.90 L198.00,610.19 L199.50,610.48 L201.00,610.75 L202.50,611.01 L204.00,611.25 L205.50,611.49 L207.00,611.72 L208.50,611.94 L210.00,612.15 L211.50,612.35 L213.00,612.54 L214.50,612.73 L216.00,612.91 L217.50,613.08 L219.00,613.25 L220.50,613.41 L222.00,613.56 L223.50,613.71 L225.00,613.86 L226.50,614.00 L228.00,614.13 L229.50,614.26 L231.00,614.39 L232.50,614.51 L234.00,614.63 L235.50,614.74 L237.00,614.85 L238.50,614.96 L240.00,615.06 L241.50,615.16 L243.00,615.26 L244.50,615.36 L246.00,615.45 L247.50,615.54 L249.00,615.63 L250.50,615.72 L252.00,615.80 L253.50,615.88 L255.00,615.96 L256.50,616.04 L258.00,616.12 L259.50,616.19 L261.00,616.27 L262.50,616.34 L264.00,616.41 L265.50,616.48 L267.00,616.54 L268.50,616.61 L270.00,616.67 L271.50,616.74 L273.00,616.80 L274.50,616.86 L276.00,616.92 L277.50,616.98 L279.00,617.04 L280.50,617.09 L282.00,617.15 L283.50,617.20 L285.00,617.26 L286.50,617.31 L288.00,617.36 L289.50,617.42 L291.00,617.47 L292.50,617.52 L294.00,617.57 L295.50,617.61 L297.00,617.66 L298.50,617.71 L300.00,617.76 L301.50,617.80 L303.00,617.85 L304.50,617.89 L306.00,617.94 L307.50,617.98 L309.00,618.02 L310.50,618.07 L312.00,618.11 L313.50,618.15 L315.00,618.19 L316.50,618.23 L318.00,618.27 L319.50,618.31 L321.00,618.35 L322.50,618.39 L324.00,618.43 L325.50,618.47 L327.00,618.50 L328.50,618.54 L330.00,618.58 L331.50,618.61 L333.00,618.65 L334.50,618.69 L336.00,618.72 L337.50,618.76 L339.00,618.79 L340.50,618.82 L342.00,618.86 L343.50,618.89 L345.00,618.93 L346.50,618.96 L348.00,618.99 L349.50,619.02 L351.00,619.05 L352.50,619.09 L354.00,619.12 L355.50,619.15 L357.00,619.18 L358.50,619.21 L360.00,619.24 L361.50,619.27 L363.00,619.30 L364.50,619.33 L366.00,619.36 L367.50,619.39 L369.00,619.41 L370.50,619.44 L372.00,619.47 L373.50,619.50 L375.00,619.53 L376.50,619.55 L378.00,619.58 L379.50,619.61 L381.00,619.63 L382.50,619.66 L384.00,619.69 L385.50,619.71 L387.00,619.74 L388.50,619.76 L390.00,619.79 L391.50,619.81 L393.00,619.84 L394.50,619.86 L396.00,619.89 L397.50,619.91 L399.00,619.93 L400.50,619.96 L402.00,619.98 L403.50,620.00 L405.00,620.03 L406.50,620.05 L408.00,620.07 L409.50,620.09 L411.00,620.12 L412.50,620.14 L414.00,620.16 L415.50,620.18 L417.00,620.20 L418.50,620.22 L420.00,620.25 L421.50,620.27 L423.00,620.29 L424.40,620.31" fill="none" stroke="#000" stroke-width="1.15" stroke-linejoin="round"/>
<path d="M143.80,606.00 L143.80,608.44 L143.81,610.64 L143.83,612.59 L143.85,614.32 L143.89,615.84 L143.92,617.16 L143.97,618.29 L144.02,619.24 L144.08,620.03 L144.14,620.67 L144.22,621.16 L144.29,621.53 L144.38,621.79 L144.47,621.94 L144.57,622.00 L144.72,621.79 L145.00,620.97 L145.38,619.78 L145.83,618.47 L146.33,617.32 L146.89,616.36 L147.64,615.48 L148.48,615.35 L149.44,615.71 L150.46,616.24 L151.43,616.69 L152.38,617.13 L153.33,617.58 L154.28,618.04 L155.22,618.51 L156.15,618.99 L157.08,619.49 L158.00,620.00 L158.00,619.99 L158.30,620.12 L158.60,620.24 L158.90,620.37 L159.20,620.49 L159.50,620.61 L159.80,620.73 L160.10,620.84 L160.40,620.96 L160.70,621.07 L161.00,621.18 L161.30,621.29 L161.60,621.40 L161.90,621.51 L162.20,621.62 L162.50,621.72 L162.80,621.83 L163.10,621.93 L163.40,622.03 L163.70,622.13 L164.00,622.23 L164.30,622.33 L164.60,622.43 L164.90,622.52 L165.20,622.62 L165.50,622.71 L165.80,622.80 L166.10,622.89 L166.40,622.98 L166.70,623.07 L167.00,623.16 L167.30,623.24 L167.60,623.33 L167.90,623.41 L168.20,623.50 L168.50,623.58 L168.80,623.66 L169.10,623.74 L169.40,623.82 L169.70,623.90 L170.00,623.97 L170.30,624.05 L170.60,624.12 L170.90,624.20 L171.20,624.27 L171.50,624.34 L171.80,624.41 L172.10,624.48 L172.40,624.55 L172.70,624.62 L173.00,624.69 L173.30,624.76 L173.60,624.82 L173.90,624.89 L174.20,624.95 L174.50,625.01 L174.80,625.08 L175.10,625.14 L175.40,625.20 L175.70,625.26 L176.00,625.32 L176.30,625.38 L176.60,625.44 L176.90,625.49 L177.20,625.55 L177.50,625.60 L177.80,625.66 L178.10,625.71 L178.40,625.77 L178.70,625.82 L179.00,625.87 L179.30,625.92 L179.60,625.97 L179.90,626.02 L180.20,626.07 L180.50,626.12 L180.80,626.17 L181.10,626.22 L181.40,626.26 L181.70,626.31 L182.00,626.35 L182.30,626.40 L182.60,626.44 L182.90,626.49 L183.00,626.50 L184.50,626.71 L186.00,626.91 L187.50,627.09 L189.00,627.26 L190.50,627.42 L192.00,627.57 L193.50,627.70 L195.00,627.83 L196.50,627.95 L198.00,628.06 L199.50,628.17 L201.00,628.26 L202.50,628.35 L204.00,628.44 L205.50,628.51 L207.00,628.58 L208.50,628.65 L210.00,628.71 L211.50,628.77 L213.00,628.82 L214.50,628.87 L216.00,628.91 L217.50,628.95 L219.00,628.99 L220.50,629.02 L222.00,629.05 L223.50,629.08 L225.00,629.11 L226.50,629.13 L228.00,629.15 L229.50,629.17 L231.00,629.19 L232.50,629.20 L234.00,629.22 L235.50,629.23 L237.00,629.24 L238.50,629.25 L240.00,629.26 L241.50,629.26 L243.00,629.27 L244.50,629.28 L246.00,629.28 L247.50,629.28 L249.00,629.29 L250.50,629.29 L252.00,629.29 L253.50,629.29 L255.00,629.29 L256.50,629.29 L258.00,629.29 L259.50,629.29 L261.00,629.29 L262.50,629.29 L264.00,629.28 L265.50,629.28 L267.00,629.28 L268.50,629.28 L270.00,629.27 L271.50,629.27 L273.00,629.27 L274.50,629.27 L276.00,629.26 L277.50,629.26 L279.00,629.25 L280.50,629.25 L282.00,629.25 L283.50,629.24 L285.00,629.24 L286.50,629.24 L288.00,629.23 L289.50,629.23 L291.00,629.23 L292.50,629.22 L294.00,629.22 L295.50,629.21 L297.00,629.21 L298.50,629.21 L300.00,629.20 L301.50,629.20 L303.00,629.20 L304.50,629.19 L306.00,629.19 L307.50,629.19 L309.00,629.18 L310.50,629.18 L312.00,629.18 L313.50,629.17 L315.00,629.17 L316.50,629.17 L318.00,629.17 L319.50,629.16 L321.00,629.16 L322.50,629.16 L324.00,629.16 L325.50,629.15 L327.00,629.15 L328.50,629.15 L330.00,629.15 L331.50,629.14 L333.00,629.14 L334.50,629.14 L336.00,629.14 L337.50,629.13 L339.00,629.13 L340.50,629.13 L342.00,629.13 L343.50,629.13 L345.00,629.13 L346.50,629.12 L348.00,629.12 L349.50,629.12 L351.00,629.12 L352.50,629.12 L354.00,629.12 L355.50,629.11 L357.00,629.11 L358.50,629.11 L360.00,629.11 L361.50,629.11 L363.00,629.11 L364.50,629.11 L366.00,629.11 L367.50,629.10 L369.00,629.10 L370.50,629.10 L372.00,629.10 L373.50,629.10 L375.00,629.10 L376.50,629.10 L378.00,629.10 L379.50,629.10 L381.00,629.10 L382.50,629.10 L384.00,629.09 L385.50,629.09 L387.00,629.09 L388.50,629.09 L390.00,629.09 L391.50,629.09 L393.00,629.09 L394.50,629.09 L396.00,629.09 L397.50,629.09 L399.00,629.09 L400.50,629.09 L402.00,629.09 L403.50,629.09 L405.00,629.09 L406.50,629.09 L408.00,629.09 L409.50,629.09 L411.00,629.08 L412.50,629.08 L414.00,629.08 L415.50,629.08 L417.00,629.08 L418.50,629.08 L420.00,629.08 L421.50,629.08 L423.00,629.08 L424.40,629.08" fill="none" stroke="#000" stroke-width="1.15" stroke-linejoin="round"/>
<path d="M144.00,606.00 L144.80,645.70 L144.80,645.76 L145.10,645.17 L145.40,644.61 L145.70,644.07 L146.00,643.56 L146.30,643.08 L146.60,642.61 L146.90,642.17 L147.20,641.75 L147.50,641.35 L147.80,640.97 L148.10,640.61 L148.40,640.26 L148.70,639.93 L149.00,639.61 L149.30,639.31 L149.60,639.03 L149.90,638.76 L150.20,638.50 L150.50,638.25 L150.80,638.01 L151.10,637.79 L151.40,637.57 L151.70,637.37 L152.00,637.17 L152.30,636.99 L152.60,636.81 L152.90,636.64 L153.20,636.48 L153.50,636.33 L153.80,636.18 L154.10,636.04 L154.40,635.90 L154.70,635.78 L155.00,635.66 L155.30,635.54 L155.60,635.43 L155.90,635.32 L156.20,635.22 L156.50,635.12 L156.80,635.03 L157.10,634.94 L157.40,634.86 L157.70,634.78 L158.00,634.70 L158.30,634.63 L158.60,634.56 L158.90,634.49 L159.20,634.43 L159.50,634.36 L159.80,634.31 L160.10,634.25 L160.40,634.20 L160.70,634.14 L161.00,634.09 L161.30,634.05 L161.60,634.00 L161.90,633.96 L162.20,633.92 L162.50,633.88 L162.80,633.84 L163.10,633.80 L163.40,633.77 L163.70,633.73 L164.00,633.70 L164.30,633.67 L164.60,633.64 L164.90,633.61 L165.20,633.58 L165.50,633.56 L165.80,633.53 L166.10,633.51 L166.40,633.48 L166.70,633.46 L167.00,633.44 L167.30,633.42 L167.60,633.40 L167.90,633.38 L168.20,633.36 L168.50,633.34 L168.80,633.32 L169.10,633.30 L169.40,633.29 L169.70,633.27 L169.80,633.27 L171.30,633.20 L172.80,633.13 L174.30,633.08 L175.80,633.03 L177.30,632.99 L178.80,632.95 L180.30,632.92 L181.80,632.89 L183.30,632.86 L184.80,632.83 L186.30,632.81 L187.80,632.78 L189.30,632.76 L190.80,632.74 L192.30,632.72 L193.80,632.70 L195.30,632.68 L196.80,632.66 L198.30,632.64 L199.80,632.63 L201.30,632.61 L202.80,632.59 L204.30,632.58 L205.80,632.56 L207.30,632.55 L208.80,632.53 L210.30,632.52 L211.80,632.51 L213.30,632.49 L214.80,632.48 L216.30,632.47 L217.80,632.45 L219.30,632.44 L220.80,632.43 L222.30,632.42 L223.80,632.41 L225.30,632.40 L226.80,632.39 L228.30,632.38 L229.80,632.37 L231.30,632.36 L232.80,632.35 L234.30,632.34 L235.80,632.33 L237.30,632.32 L238.80,632.31 L240.30,632.31 L241.80,632.30 L243.30,632.29 L244.80,632.28 L246.30,632.28 L247.80,632.27 L249.30,632.26 L250.80,632.25 L252.30,632.25 L253.80,632.24 L255.30,632.24 L256.80,632.23 L258.30,632.22 L259.80,632.22 L261.30,632.21 L262.80,632.21 L264.30,632.20 L265.80,632.20 L267.30,632.19 L268.80,632.19 L270.30,632.18 L271.80,632.18 L273.30,632.17 L274.80,632.17 L276.30,632.16 L277.80,632.16 L279.30,632.16 L280.80,632.15 L282.30,632.15 L283.80,632.14 L285.30,632.14 L286.80,632.14 L288.30,632.13 L289.80,632.13 L291.30,632.13 L292.80,632.12 L294.30,632.12 L295.80,632.12 L297.30,632.12 L298.80,632.11 L300.30,632.11 L301.80,632.11 L303.30,632.10 L304.80,632.10 L306.30,632.10 L307.80,632.10 L309.30,632.09 L310.80,632.09 L312.30,632.09 L313.80,632.09 L315.30,632.09 L316.80,632.08 L318.30,632.08 L319.80,632.08 L321.30,632.08 L322.80,632.08 L324.30,632.07 L325.80,632.07 L327.30,632.07 L328.80,632.07 L330.30,632.07 L331.80,632.07 L333.30,632.06 L334.80,632.06 L336.30,632.06 L337.80,632.06 L339.30,632.06 L340.80,632.06 L342.30,632.06 L343.80,632.05 L345.30,632.05 L346.80,632.05 L348.30,632.05 L349.80,632.05 L351.30,632.05 L352.80,632.05 L354.30,632.05 L355.80,632.05 L357.30,632.05 L358.80,632.04 L360.30,632.04 L361.80,632.04 L363.30,632.04 L364.80,632.04 L366.30,632.04 L367.80,632.04 L369.30,632.04 L370.80,632.04 L372.30,632.04 L373.80,632.04 L375.30,632.04 L376.80,632.03 L378.30,632.03 L379.80,632.03 L381.30,632.03 L382.80,632.03 L384.30,632.03 L385.80,632.03 L387.30,632.03 L388.80,632.03 L390.30,632.03 L391.80,632.03 L393.30,632.03 L394.80,632.03 L396.30,632.03 L397.80,632.03 L399.30,632.03 L400.80,632.03 L402.30,632.03 L403.80,632.02 L405.30,632.02 L406.80,632.02 L408.30,632.02 L409.80,632.02 L411.30,632.02 L412.80,632.02 L414.30,632.02 L415.80,632.02 L417.30,632.02 L418.80,632.02 L420.30,632.02 L421.80,632.02 L423.30,632.02 L424.40,632.02" fill="none" stroke="#000" stroke-width="1.15" stroke-linejoin="round"/>
<path d="M144.20,606.00 L144.80,678.40 L144.80,678.47 L145.10,675.80 L145.40,673.32 L145.70,671.02 L146.00,668.88 L146.30,666.89 L146.60,665.04 L146.90,663.33 L147.20,661.73 L147.50,660.24 L147.80,658.86 L148.10,657.57 L148.40,656.37 L148.70,655.25 L149.00,654.21 L149.30,653.24 L149.60,652.33 L149.90,651.48 L150.20,650.69 L150.50,649.95 L150.80,649.26 L151.10,648.62 L151.40,648.01 L151.70,647.45 L152.00,646.91 L152.30,646.42 L152.60,645.95 L152.90,645.51 L153.20,645.10 L153.50,644.71 L153.80,644.35 L154.10,644.01 L154.40,643.68 L154.70,643.38 L155.00,643.09 L155.30,642.82 L155.60,642.56 L155.90,642.32 L156.20,642.09 L156.50,641.87 L156.80,641.67 L157.10,641.47 L157.40,641.28 L157.70,641.11 L158.00,640.94 L158.30,640.78 L158.60,640.62 L158.90,640.47 L159.20,640.33 L159.50,640.20 L159.80,640.07 L160.10,639.95 L160.40,639.83 L160.70,639.72 L161.00,639.61 L161.30,639.50 L161.60,639.40 L161.90,639.30 L162.20,639.21 L162.50,639.12 L162.80,639.03 L163.10,638.95 L163.40,638.87 L163.70,638.79 L164.00,638.71 L164.30,638.64 L164.60,638.57 L164.90,638.50 L165.20,638.43 L165.50,638.36 L165.80,638.30 L166.10,638.24 L166.40,638.18 L166.70,638.12 L167.00,638.06 L167.30,638.00 L167.60,637.95 L167.90,637.90 L168.20,637.84 L168.50,637.79 L168.80,637.74 L169.10,637.70 L169.40,637.65 L169.70,637.60 L169.80,637.59 L171.30,637.37 L172.80,637.18 L174.30,637.01 L175.80,636.85 L177.30,636.71 L178.80,636.58 L180.30,636.46 L181.80,636.35 L183.30,636.25 L184.80,636.15 L186.30,636.07 L187.80,635.99 L189.30,635.92 L190.80,635.86 L192.30,635.80 L193.80,635.75 L195.30,635.70 L196.80,635.65 L198.30,635.61 L199.80,635.57 L201.30,635.53 L202.80,635.50 L204.30,635.47 L205.80,635.45 L207.30,635.42 L208.80,635.40 L210.30,635.38 L211.80,635.36 L213.30,635.34 L214.80,635.32 L216.30,635.31 L217.80,635.29 L219.30,635.28 L220.80,635.27 L222.30,635.26 L223.80,635.25 L225.30,635.24 L226.80,635.23 L228.30,635.23 L229.80,635.22 L231.30,635.21 L232.80,635.21 L234.30,635.20 L235.80,635.20 L237.30,635.19 L238.80,635.19 L240.30,635.18 L241.80,635.18 L243.30,635.18 L244.80,635.18 L246.30,635.17 L247.80,635.17 L249.30,635.17 L250.80,635.17 L252.30,635.16 L253.80,635.16 L255.30,635.16 L256.80,635.16 L258.30,635.16 L259.80,635.16 L261.30,635.16 L262.80,635.15 L264.30,635.15 L265.80,635.15 L267.30,635.15 L268.80,635.15 L270.30,635.15 L271.80,635.15 L273.30,635.15 L274.80,635.15 L276.30,635.15 L277.80,635.15 L279.30,635.15 L280.80,635.15 L282.30,635.15 L283.80,635.15 L285.30,635.15 L286.80,635.15 L288.30,635.15 L289.80,635.15 L291.30,635.15 L292.80,635.15 L294.30,635.15 L295.80,635.15 L297.30,635.14 L298.80,635.14 L300.30,635.14 L301.80,635.14 L303.30,635.14 L304.80,635.14 L306.30,635.14 L307.80,635.14 L309.30,635.14 L310.80,635.14 L312.30,635.14 L313.80,635.14 L315.30,635.14 L316.80,635.14 L318.30,635.14 L319.80,635.14 L321.30,635.14 L322.80,635.14 L324.30,635.14 L325.80,635.14 L327.30,635.14 L328.80,635.14 L330.30,635.14 L331.80,635.14 L333.30,635.14 L334.80,635.14 L336.30,635.14 L337.80,635.14 L339.30,635.14 L340.80,635.14 L342.30,635.14 L343.80,635.14 L345.30,635.14 L346.80,635.14 L348.30,635.14 L349.80,635.14 L351.30,635.14 L352.80,635.14 L354.30,635.14 L355.80,635.14 L357.30,635.14 L358.80,635.14 L360.30,635.14 L361.80,635.14 L363.30,635.14 L364.80,635.14 L366.30,635.14 L367.80,635.14 L369.30,635.14 L370.80,635.14 L372.30,635.14 L373.80,635.14 L375.30,635.14 L376.80,635.14 L378.30,635.14 L379.80,635.14 L381.30,635.14 L382.80,635.14 L384.30,635.14 L385.80,635.14 L387.30,635.14 L388.80,635.14 L390.30,635.14 L391.80,635.14 L393.30,635.14 L394.80,635.14 L396.30,635.14 L397.80,635.14 L399.30,635.14 L400.80,635.14 L402.30,635.14 L403.80,635.14 L405.30,635.14 L406.80,635.14 L408.30,635.14 L409.80,635.14 L411.30,635.14 L412.80,635.14 L414.30,635.14 L415.80,635.14 L417.30,635.14 L418.80,635.14 L420.30,635.14 L421.80,635.14 L423.30,635.14 L424.40,635.14" fill="none" stroke="#000" stroke-width="1.15" stroke-linejoin="round"/>
<path d="M144.40,606.00 L145.20,717.80 L145.20,718.79 L145.50,712.10 L145.80,705.99 L146.10,700.41 L146.40,695.30 L146.70,690.64 L147.00,686.38 L147.30,682.48 L147.60,678.92 L147.90,675.67 L148.20,672.69 L148.50,669.97 L148.80,667.48 L149.10,665.21 L149.40,663.13 L149.70,661.23 L150.00,659.49 L150.30,657.90 L150.60,656.45 L150.90,655.12 L151.20,653.90 L151.50,652.79 L151.80,651.77 L152.10,650.84 L152.40,649.98 L152.70,649.20 L153.00,648.49 L153.30,647.83 L153.60,647.23 L153.90,646.68 L154.20,646.18 L154.50,645.71 L154.80,645.29 L155.10,644.90 L155.40,644.54 L155.70,644.22 L156.00,643.91 L156.30,643.64 L156.60,643.38 L156.90,643.15 L157.20,642.93 L157.50,642.74 L157.80,642.55 L158.10,642.39 L158.40,642.23 L158.70,642.09 L159.00,641.96 L159.30,641.83 L159.60,641.72 L159.90,641.61 L160.20,641.52 L160.50,641.43 L160.80,641.34 L161.10,641.27 L161.40,641.19 L161.70,641.13 L162.00,641.06 L162.30,641.00 L162.60,640.95 L162.90,640.90 L163.20,640.85 L163.50,640.80 L163.80,640.76 L164.10,640.72 L164.40,640.68 L164.70,640.64 L165.00,640.61 L165.30,640.58 L165.60,640.54 L165.90,640.51 L166.20,640.49 L166.50,640.46 L166.80,640.43 L167.10,640.41 L167.40,640.39 L167.70,640.36 L168.00,640.34 L168.30,640.32 L168.60,640.30 L168.90,640.28 L169.20,640.26 L169.50,640.24 L169.80,640.22 L170.10,640.20 L170.20,640.20 L171.70,640.12 L173.20,640.04 L174.70,639.98 L176.20,639.91 L177.70,639.86 L179.20,639.80 L180.70,639.75 L182.20,639.70 L183.70,639.65 L185.20,639.60 L186.70,639.56 L188.20,639.52 L189.70,639.48 L191.20,639.44 L192.70,639.40 L194.20,639.37 L195.70,639.34 L197.20,639.30 L198.70,639.27 L200.20,639.24 L201.70,639.22 L203.20,639.19 L204.70,639.16 L206.20,639.14 L207.70,639.11 L209.20,639.09 L210.70,639.07 L212.20,639.05 L213.70,639.03 L215.20,639.01 L216.70,638.99 L218.20,638.97 L219.70,638.96 L221.20,638.94 L222.70,638.92 L224.20,638.91 L225.70,638.90 L227.20,638.88 L228.70,638.87 L230.20,638.86 L231.70,638.84 L233.20,638.83 L234.70,638.82 L236.20,638.81 L237.70,638.80 L239.20,638.79 L240.70,638.78 L242.20,638.77 L243.70,638.77 L245.20,638.76 L246.70,638.75 L248.20,638.74 L249.70,638.73 L251.20,638.73 L252.70,638.72 L254.20,638.72 L255.70,638.71 L257.20,638.70 L258.70,638.70 L260.20,638.69 L261.70,638.69 L263.20,638.68 L264.70,638.68 L266.20,638.67 L267.70,638.67 L269.20,638.67 L270.70,638.66 L272.20,638.66 L273.70,638.65 L275.20,638.65 L276.70,638.65 L278.20,638.64 L279.70,638.64 L281.20,638.64 L282.70,638.64 L284.20,638.63 L285.70,638.63 L287.20,638.63 L288.70,638.63 L290.20,638.62 L291.70,638.62 L293.20,638.62 L294.70,638.62 L296.20,638.62 L297.70,638.61 L299.20,638.61 L300.70,638.61 L302.20,638.61 L303.70,638.61 L305.20,638.61 L306.70,638.60 L308.20,638.60 L309.70,638.60 L311.20,638.60 L312.70,638.60 L314.20,638.60 L315.70,638.60 L317.20,638.60 L318.70,638.59 L320.20,638.59 L321.70,638.59 L323.20,638.59 L324.70,638.59 L326.20,638.59 L327.70,638.59 L329.20,638.59 L330.70,638.59 L332.20,638.59 L333.70,638.59 L335.20,638.59 L336.70,638.59 L338.20,638.59 L339.70,638.58 L341.20,638.58 L342.70,638.58 L344.20,638.58 L345.70,638.58 L347.20,638.58 L348.70,638.58 L350.20,638.58 L351.70,638.58 L353.20,638.58 L354.70,638.58 L356.20,638.58 L357.70,638.58 L359.20,638.58 L360.70,638.58 L362.20,638.58 L363.70,638.58 L365.20,638.58 L366.70,638.58 L368.20,638.58 L369.70,638.58 L371.20,638.58 L372.70,638.58 L374.20,638.58 L375.70,638.58 L377.20,638.58 L378.70,638.58 L380.20,638.58 L381.70,638.58 L383.20,638.58 L384.70,638.58 L386.20,638.58 L387.70,638.58 L389.20,638.58 L390.70,638.57 L392.20,638.57 L393.70,638.57 L395.20,638.57 L396.70,638.57 L398.20,638.57 L399.70,638.57 L401.20,638.57 L402.70,638.57 L404.20,638.57 L405.70,638.57 L407.20,638.57 L408.70,638.57 L410.20,638.57 L411.70,638.57 L413.20,638.57 L414.70,638.57 L416.20,638.57 L417.70,638.57 L419.20,638.57 L420.70,638.57 L422.20,638.57 L423.70,638.57 L424.40,638.57" fill="none" stroke="#000" stroke-width="1.15" stroke-linejoin="round"/>
<line x1="51.50" y1="625.30" x2="62.00" y2="625.30" stroke="#000" stroke-width="1.5"/>
<path d="M69.50,625.30 L61.50,622.40 L61.50,628.20 Z" fill="#000"/>
<text x="197.92" y="669.20" font-size="21.8" font-weight="normal" font-style="normal" fill="#000" textLength="76.18" lengthAdjust="spacingAndGlyphs">control</text>
<path d="M313.7,664.3 V705.1 H373.3" fill="none" stroke="#000" stroke-width="1.5"/>
<text x="319.88" y="688.60" font-size="19.19" font-weight="normal" font-style="normal" fill="#000" textLength="46.16" lengthAdjust="spacingAndGlyphs">2 <tspan font-family="Liberation Serif">μ</tspan>A</text>
<text x="319.62" y="727.50" font-size="20.91" font-weight="normal" font-style="normal" fill="#000" textLength="60.08" lengthAdjust="spacingAndGlyphs">50 ms</text>
<line x1="69.80" y1="742.50" x2="144.50" y2="742.50" stroke="#000" stroke-width="1.4"/>
<path d="M144.50,743.00 L144.59,744.81 L144.69,746.38 L144.80,747.69 L144.92,748.73 L145.05,749.47 L145.19,749.90 L145.33,749.99 L145.48,749.67 L145.64,748.99 L145.81,748.01 L145.98,746.83 L146.17,745.51 L146.38,744.16 L146.60,742.83 L146.85,741.63 L147.11,740.59 L147.41,739.57 L147.76,738.56 L148.15,737.57 L148.61,736.65 L149.13,735.81 L149.83,734.95 L150.68,734.31 L151.63,734.10 L152.70,734.01 L153.68,734.13 L154.60,734.62 L155.51,735.23 L156.45,735.71 L157.39,736.15 L158.33,736.59 L159.27,737.03 L160.22,737.45 L161.17,737.88 L162.12,738.29 L163.08,738.70 L164.04,739.11 L165.00,739.50 L165.00,739.46 L165.30,739.60 L165.60,739.75 L165.90,739.89 L166.20,740.03 L166.50,740.17 L166.80,740.31 L167.10,740.45 L167.40,740.58 L167.70,740.72 L168.00,740.85 L168.30,740.98 L168.60,741.11 L168.90,741.24 L169.20,741.37 L169.50,741.50 L169.80,741.62 L170.10,741.75 L170.40,741.87 L170.70,741.99 L171.00,742.11 L171.30,742.23 L171.60,742.35 L171.90,742.46 L172.20,742.58 L172.50,742.69 L172.80,742.81 L173.10,742.92 L173.40,743.03 L173.70,743.14 L174.00,743.25 L174.30,743.35 L174.60,743.46 L174.90,743.56 L175.20,743.67 L175.50,743.77 L175.80,743.87 L176.10,743.98 L176.40,744.08 L176.70,744.17 L177.00,744.27 L177.30,744.37 L177.60,744.47 L177.90,744.56 L178.20,744.66 L178.50,744.75 L178.80,744.84 L179.10,744.93 L179.40,745.02 L179.70,745.11 L180.00,745.20 L180.30,745.29 L180.60,745.38 L180.90,745.46 L181.20,745.55 L181.50,745.63 L181.80,745.72 L182.10,745.80 L182.40,745.88 L182.70,745.96 L183.00,746.04 L183.30,746.12 L183.60,746.20 L183.90,746.28 L184.20,746.36 L184.50,746.44 L184.80,746.51 L185.10,746.59 L185.40,746.66 L185.70,746.74 L186.00,746.81 L186.30,746.88 L186.60,746.95 L186.90,747.02 L187.20,747.09 L187.50,747.16 L187.80,747.23 L188.10,747.30 L188.40,747.37 L188.70,747.44 L189.00,747.50 L189.30,747.57 L189.60,747.63 L189.90,747.70 L190.00,747.72 L191.50,748.03 L193.00,748.33 L194.50,748.62 L196.00,748.89 L197.50,749.15 L199.00,749.40 L200.50,749.63 L202.00,749.86 L203.50,750.08 L205.00,750.28 L206.50,750.48 L208.00,750.67 L209.50,750.86 L211.00,751.03 L212.50,751.20 L214.00,751.36 L215.50,751.51 L217.00,751.66 L218.50,751.81 L220.00,751.94 L221.50,752.07 L223.00,752.20 L224.50,752.32 L226.00,752.44 L227.50,752.55 L229.00,752.66 L230.50,752.77 L232.00,752.87 L233.50,752.96 L235.00,753.06 L236.50,753.15 L238.00,753.24 L239.50,753.32 L241.00,753.41 L242.50,753.49 L244.00,753.56 L245.50,753.64 L247.00,753.71 L248.50,753.78 L250.00,753.85 L251.50,753.91 L253.00,753.98 L254.50,754.04 L256.00,754.10 L257.50,754.16 L259.00,754.22 L260.50,754.27 L262.00,754.33 L263.50,754.38 L265.00,754.43 L266.50,754.48 L268.00,754.53 L269.50,754.58 L271.00,754.63 L272.50,754.67 L274.00,754.71 L275.50,754.76 L277.00,754.80 L278.50,754.84 L280.00,754.88 L281.50,754.92 L283.00,754.96 L284.50,755.00 L286.00,755.03 L287.50,755.07 L289.00,755.11 L290.50,755.14 L292.00,755.17 L293.50,755.21 L295.00,755.24 L296.50,755.27 L298.00,755.30 L299.50,755.34 L301.00,755.37 L302.50,755.39 L304.00,755.42 L305.50,755.45 L307.00,755.48 L308.50,755.51 L310.00,755.54 L311.50,755.56 L313.00,755.59 L314.50,755.61 L316.00,755.64 L317.50,755.66 L319.00,755.69 L320.50,755.71 L322.00,755.74 L323.50,755.76 L325.00,755.78 L326.50,755.80 L328.00,755.83 L329.50,755.85 L331.00,755.87 L332.50,755.89 L334.00,755.91 L335.50,755.93 L337.00,755.95 L338.50,755.97 L340.00,755.99 L341.50,756.01 L343.00,756.03 L344.50,756.05 L346.00,756.06 L347.50,756.08 L349.00,756.10 L350.50,756.12 L352.00,756.13 L353.50,756.15 L355.00,756.17 L356.50,756.18 L358.00,756.20 L359.50,756.22 L361.00,756.23 L362.50,756.25 L364.00,756.26 L365.50,756.28 L367.00,756.29 L368.50,756.31 L370.00,756.32 L371.50,756.34 L373.00,756.35 L374.50,756.36 L376.00,756.38 L377.50,756.39 L379.00,756.40 L380.50,756.42 L382.00,756.43 L383.50,756.44 L385.00,756.45 L386.50,756.47 L388.00,756.48 L389.50,756.49 L391.00,756.50 L392.50,756.51 L394.00,756.53 L395.50,756.54 L397.00,756.55 L398.50,756.56 L400.00,756.57 L401.50,756.58 L403.00,756.59 L404.50,756.60 L406.00,756.61 L407.50,756.62 L409.00,756.63 L410.50,756.64 L412.00,756.65 L413.50,756.66 L415.00,756.67 L416.50,756.68 L418.00,756.69 L419.50,756.70 L421.00,756.71 L422.50,756.71 L424.00,756.72 L425.50,756.73 L426.20,756.74" fill="none" stroke="#000" stroke-width="1.15" stroke-linejoin="round"/>
<path d="M144.70,743.00 L144.70,745.44 L144.71,747.64 L144.72,749.62 L144.73,751.39 L144.75,752.95 L144.77,754.33 L144.80,755.52 L144.84,756.55 L144.88,757.41 L144.92,758.13 L144.98,758.72 L145.04,759.18 L145.10,759.53 L145.18,759.77 L145.26,759.92 L145.35,759.99 L145.53,759.88 L146.14,759.10 L146.97,758.07 L147.76,757.26 L148.55,756.54 L149.42,756.03 L150.43,755.77 L151.43,755.86 L152.40,756.25 L153.37,756.64 L154.33,757.00 L155.29,757.38 L156.24,757.77 L157.19,758.18 L158.14,758.60 L159.07,759.04 L160.00,759.50 L160.00,759.46 L160.30,759.56 L160.60,759.66 L160.90,759.76 L161.20,759.86 L161.50,759.96 L161.80,760.06 L162.10,760.15 L162.40,760.25 L162.70,760.34 L163.00,760.43 L163.30,760.52 L163.60,760.61 L163.90,760.69 L164.20,760.78 L164.50,760.87 L164.80,760.95 L165.10,761.03 L165.40,761.11 L165.70,761.19 L166.00,761.27 L166.30,761.35 L166.60,761.43 L166.90,761.50 L167.20,761.58 L167.50,761.65 L167.80,761.72 L168.10,761.79 L168.40,761.86 L168.70,761.93 L169.00,762.00 L169.30,762.07 L169.60,762.13 L169.90,762.20 L170.20,762.26 L170.50,762.33 L170.80,762.39 L171.10,762.45 L171.40,762.51 L171.70,762.57 L172.00,762.63 L172.30,762.69 L172.60,762.75 L172.90,762.80 L173.20,762.86 L173.50,762.91 L173.80,762.97 L174.10,763.02 L174.40,763.07 L174.70,763.12 L175.00,763.17 L175.30,763.22 L175.60,763.27 L175.90,763.32 L176.20,763.37 L176.50,763.42 L176.80,763.46 L177.10,763.51 L177.40,763.55 L177.70,763.60 L178.00,763.64 L178.30,763.68 L178.60,763.72 L178.90,763.77 L179.20,763.81 L179.50,763.85 L179.80,763.89 L180.10,763.93 L180.40,763.96 L180.70,764.00 L181.00,764.04 L181.30,764.08 L181.60,764.11 L181.90,764.15 L182.20,764.18 L182.50,764.22 L182.80,764.25 L183.10,764.28 L183.40,764.32 L183.70,764.35 L184.00,764.38 L184.30,764.41 L184.60,764.44 L184.90,764.47 L185.00,764.48 L186.50,764.63 L188.00,764.76 L189.50,764.88 L191.00,765.00 L192.50,765.10 L194.00,765.20 L195.50,765.29 L197.00,765.37 L198.50,765.44 L200.00,765.51 L201.50,765.57 L203.00,765.63 L204.50,765.68 L206.00,765.73 L207.50,765.77 L209.00,765.81 L210.50,765.84 L212.00,765.87 L213.50,765.90 L215.00,765.93 L216.50,765.95 L218.00,765.97 L219.50,765.99 L221.00,766.01 L222.50,766.02 L224.00,766.03 L225.50,766.04 L227.00,766.05 L228.50,766.06 L230.00,766.07 L231.50,766.07 L233.00,766.08 L234.50,766.08 L236.00,766.08 L237.50,766.08 L239.00,766.09 L240.50,766.09 L242.00,766.09 L243.50,766.09 L245.00,766.08 L246.50,766.08 L248.00,766.08 L249.50,766.08 L251.00,766.08 L252.50,766.07 L254.00,766.07 L255.50,766.07 L257.00,766.06 L258.50,766.06 L260.00,766.06 L261.50,766.05 L263.00,766.05 L264.50,766.05 L266.00,766.04 L267.50,766.04 L269.00,766.03 L270.50,766.03 L272.00,766.03 L273.50,766.02 L275.00,766.02 L276.50,766.01 L278.00,766.01 L279.50,766.01 L281.00,766.00 L282.50,766.00 L284.00,766.00 L285.50,765.99 L287.00,765.99 L288.50,765.99 L290.00,765.98 L291.50,765.98 L293.00,765.98 L294.50,765.97 L296.00,765.97 L297.50,765.97 L299.00,765.96 L300.50,765.96 L302.00,765.96 L303.50,765.96 L305.00,765.95 L306.50,765.95 L308.00,765.95 L309.50,765.95 L311.00,765.94 L312.50,765.94 L314.00,765.94 L315.50,765.94 L317.00,765.94 L318.50,765.93 L320.00,765.93 L321.50,765.93 L323.00,765.93 L324.50,765.93 L326.00,765.92 L327.50,765.92 L329.00,765.92 L330.50,765.92 L332.00,765.92 L333.50,765.92 L335.00,765.92 L336.50,765.91 L338.00,765.91 L339.50,765.91 L341.00,765.91 L342.50,765.91 L344.00,765.91 L345.50,765.91 L347.00,765.91 L348.50,765.91 L350.00,765.91 L351.50,765.90 L353.00,765.90 L354.50,765.90 L356.00,765.90 L357.50,765.90 L359.00,765.90 L360.50,765.90 L362.00,765.90 L363.50,765.90 L365.00,765.90 L366.50,765.90 L368.00,765.90 L369.50,765.90 L371.00,765.90 L372.50,765.90 L374.00,765.90 L375.50,765.89 L377.00,765.89 L378.50,765.89 L380.00,765.89 L381.50,765.89 L383.00,765.89 L384.50,765.89 L386.00,765.89 L387.50,765.89 L389.00,765.89 L390.50,765.89 L392.00,765.89 L393.50,765.89 L395.00,765.89 L396.50,765.89 L398.00,765.89 L399.50,765.89 L401.00,765.89 L402.50,765.89 L404.00,765.89 L405.50,765.89 L407.00,765.89 L408.50,765.89 L410.00,765.89 L411.50,765.89 L413.00,765.89 L414.50,765.89 L416.00,765.89 L417.50,765.89 L419.00,765.89 L420.50,765.89 L422.00,765.89 L423.50,765.89 L425.00,765.89 L426.20,765.89" fill="none" stroke="#000" stroke-width="1.15" stroke-linejoin="round"/>
<path d="M144.80,743.00 L146.20,782.00 L146.20,782.04 L146.50,781.57 L146.80,781.12 L147.10,780.69 L147.40,780.28 L147.70,779.89 L148.00,779.51 L148.30,779.15 L148.60,778.81 L148.90,778.48 L149.20,778.16 L149.50,777.86 L149.80,777.57 L150.10,777.29 L150.40,777.03 L150.70,776.77 L151.00,776.53 L151.30,776.30 L151.60,776.07 L151.90,775.86 L152.20,775.65 L152.50,775.46 L152.80,775.27 L153.10,775.09 L153.40,774.92 L153.70,774.75 L154.00,774.59 L154.30,774.44 L154.60,774.30 L154.90,774.16 L155.20,774.02 L155.50,773.89 L155.80,773.77 L156.10,773.65 L156.40,773.54 L156.70,773.43 L157.00,773.32 L157.30,773.22 L157.60,773.13 L157.90,773.03 L158.20,772.94 L158.50,772.86 L158.80,772.77 L159.10,772.69 L159.40,772.62 L159.70,772.54 L160.00,772.47 L160.30,772.41 L160.60,772.34 L160.90,772.28 L161.20,772.22 L161.50,772.16 L161.80,772.10 L162.10,772.05 L162.40,771.99 L162.70,771.94 L163.00,771.89 L163.30,771.85 L163.60,771.80 L163.90,771.76 L164.20,771.72 L164.50,771.67 L164.80,771.63 L165.10,771.60 L165.40,771.56 L165.70,771.52 L166.00,771.49 L166.30,771.46 L166.60,771.42 L166.90,771.39 L167.20,771.36 L167.50,771.33 L167.80,771.30 L168.10,771.27 L168.40,771.25 L168.70,771.22 L169.00,771.20 L169.30,771.17 L169.60,771.15 L169.90,771.12 L170.20,771.10 L170.50,771.08 L170.80,771.06 L171.10,771.03 L171.20,771.03 L172.70,770.93 L174.20,770.85 L175.70,770.77 L177.20,770.70 L178.70,770.64 L180.20,770.58 L181.70,770.53 L183.20,770.48 L184.70,770.43 L186.20,770.39 L187.70,770.35 L189.20,770.31 L190.70,770.27 L192.20,770.24 L193.70,770.21 L195.20,770.18 L196.70,770.15 L198.20,770.12 L199.70,770.09 L201.20,770.07 L202.70,770.04 L204.20,770.02 L205.70,769.99 L207.20,769.97 L208.70,769.95 L210.20,769.93 L211.70,769.91 L213.20,769.89 L214.70,769.87 L216.20,769.86 L217.70,769.84 L219.20,769.82 L220.70,769.81 L222.20,769.79 L223.70,769.78 L225.20,769.76 L226.70,769.75 L228.20,769.74 L229.70,769.73 L231.20,769.71 L232.70,769.70 L234.20,769.69 L235.70,769.68 L237.20,769.67 L238.70,769.66 L240.20,769.65 L241.70,769.64 L243.20,769.63 L244.70,769.63 L246.20,769.62 L247.70,769.61 L249.20,769.60 L250.70,769.59 L252.20,769.59 L253.70,769.58 L255.20,769.57 L256.70,769.57 L258.20,769.56 L259.70,769.56 L261.20,769.55 L262.70,769.55 L264.20,769.54 L265.70,769.54 L267.20,769.53 L268.70,769.53 L270.20,769.52 L271.70,769.52 L273.20,769.51 L274.70,769.51 L276.20,769.51 L277.70,769.50 L279.20,769.50 L280.70,769.50 L282.20,769.49 L283.70,769.49 L285.20,769.49 L286.70,769.48 L288.20,769.48 L289.70,769.48 L291.20,769.48 L292.70,769.47 L294.20,769.47 L295.70,769.47 L297.20,769.47 L298.70,769.46 L300.20,769.46 L301.70,769.46 L303.20,769.46 L304.70,769.46 L306.20,769.46 L307.70,769.45 L309.20,769.45 L310.70,769.45 L312.20,769.45 L313.70,769.45 L315.20,769.45 L316.70,769.44 L318.20,769.44 L319.70,769.44 L321.20,769.44 L322.70,769.44 L324.20,769.44 L325.70,769.44 L327.20,769.44 L328.70,769.44 L330.20,769.43 L331.70,769.43 L333.20,769.43 L334.70,769.43 L336.20,769.43 L337.70,769.43 L339.20,769.43 L340.70,769.43 L342.20,769.43 L343.70,769.43 L345.20,769.43 L346.70,769.43 L348.20,769.43 L349.70,769.43 L351.20,769.42 L352.70,769.42 L354.20,769.42 L355.70,769.42 L357.20,769.42 L358.70,769.42 L360.20,769.42 L361.70,769.42 L363.20,769.42 L364.70,769.42 L366.20,769.42 L367.70,769.42 L369.20,769.42 L370.70,769.42 L372.20,769.42 L373.70,769.42 L375.20,769.42 L376.70,769.42 L378.20,769.42 L379.70,769.42 L381.20,769.42 L382.70,769.42 L384.20,769.42 L385.70,769.42 L387.20,769.42 L388.70,769.42 L390.20,769.42 L391.70,769.42 L393.20,769.42 L394.70,769.42 L396.20,769.41 L397.70,769.41 L399.20,769.41 L400.70,769.41 L402.20,769.41 L403.70,769.41 L405.20,769.41 L406.70,769.41 L408.20,769.41 L409.70,769.41 L411.20,769.41 L412.70,769.41 L414.20,769.41 L415.70,769.41 L417.20,769.41 L418.70,769.41 L420.20,769.41 L421.70,769.41 L423.20,769.41 L424.70,769.41 L426.20,769.41" fill="none" stroke="#000" stroke-width="1.15" stroke-linejoin="round"/>
<path d="M145.00,743.00 L146.20,810.50 L146.20,810.66 L146.50,808.24 L146.80,805.99 L147.10,803.90 L147.40,801.96 L147.70,800.16 L148.00,798.49 L148.30,796.93 L148.60,795.48 L148.90,794.14 L149.20,792.89 L149.50,791.73 L149.80,790.65 L150.10,789.65 L150.40,788.71 L150.70,787.84 L151.00,787.03 L151.30,786.28 L151.60,785.58 L151.90,784.93 L152.20,784.32 L152.50,783.75 L152.80,783.22 L153.10,782.73 L153.40,782.27 L153.70,781.84 L154.00,781.44 L154.30,781.07 L154.60,780.72 L154.90,780.39 L155.20,780.09 L155.50,779.81 L155.80,779.54 L156.10,779.29 L156.40,779.06 L156.70,778.84 L157.00,778.63 L157.30,778.44 L157.60,778.26 L157.90,778.09 L158.20,777.93 L158.50,777.78 L158.80,777.64 L159.10,777.50 L159.40,777.38 L159.70,777.26 L160.00,777.15 L160.30,777.04 L160.60,776.94 L160.90,776.84 L161.20,776.75 L161.50,776.67 L161.80,776.59 L162.10,776.51 L162.40,776.44 L162.70,776.37 L163.00,776.30 L163.30,776.24 L163.60,776.18 L163.90,776.12 L164.20,776.06 L164.50,776.01 L164.80,775.96 L165.10,775.91 L165.40,775.86 L165.70,775.82 L166.00,775.77 L166.30,775.73 L166.60,775.69 L166.90,775.65 L167.20,775.61 L167.50,775.57 L167.80,775.54 L168.10,775.50 L168.40,775.47 L168.70,775.44 L169.00,775.40 L169.30,775.37 L169.60,775.34 L169.90,775.31 L170.20,775.28 L170.50,775.26 L170.80,775.23 L171.10,775.20 L171.20,775.19 L172.70,775.07 L174.20,774.96 L175.70,774.85 L177.20,774.76 L178.70,774.67 L180.20,774.58 L181.70,774.50 L183.20,774.43 L184.70,774.36 L186.20,774.30 L187.70,774.23 L189.20,774.18 L190.70,774.12 L192.20,774.07 L193.70,774.02 L195.20,773.97 L196.70,773.93 L198.20,773.88 L199.70,773.84 L201.20,773.81 L202.70,773.77 L204.20,773.74 L205.70,773.70 L207.20,773.67 L208.70,773.65 L210.20,773.62 L211.70,773.59 L213.20,773.57 L214.70,773.54 L216.20,773.52 L217.70,773.50 L219.20,773.48 L220.70,773.46 L222.20,773.44 L223.70,773.43 L225.20,773.41 L226.70,773.40 L228.20,773.38 L229.70,773.37 L231.20,773.36 L232.70,773.34 L234.20,773.33 L235.70,773.32 L237.20,773.31 L238.70,773.30 L240.20,773.29 L241.70,773.28 L243.20,773.28 L244.70,773.27 L246.20,773.26 L247.70,773.25 L249.20,773.25 L250.70,773.24 L252.20,773.23 L253.70,773.23 L255.20,773.22 L256.70,773.22 L258.20,773.21 L259.70,773.21 L261.20,773.20 L262.70,773.20 L264.20,773.20 L265.70,773.19 L267.20,773.19 L268.70,773.19 L270.20,773.18 L271.70,773.18 L273.20,773.18 L274.70,773.17 L276.20,773.17 L277.70,773.17 L279.20,773.17 L280.70,773.16 L282.20,773.16 L283.70,773.16 L285.20,773.16 L286.70,773.16 L288.20,773.15 L289.70,773.15 L291.20,773.15 L292.70,773.15 L294.20,773.15 L295.70,773.15 L297.20,773.15 L298.70,773.15 L300.20,773.14 L301.70,773.14 L303.20,773.14 L304.70,773.14 L306.20,773.14 L307.70,773.14 L309.20,773.14 L310.70,773.14 L312.20,773.14 L313.70,773.14 L315.20,773.14 L316.70,773.14 L318.20,773.14 L319.70,773.13 L321.20,773.13 L322.70,773.13 L324.20,773.13 L325.70,773.13 L327.20,773.13 L328.70,773.13 L330.20,773.13 L331.70,773.13 L333.20,773.13 L334.70,773.13 L336.20,773.13 L337.70,773.13 L339.20,773.13 L340.70,773.13 L342.20,773.13 L343.70,773.13 L345.20,773.13 L346.70,773.13 L348.20,773.13 L349.70,773.13 L351.20,773.13 L352.70,773.13 L354.20,773.13 L355.70,773.13 L357.20,773.13 L358.70,773.13 L360.20,773.13 L361.70,773.13 L363.20,773.13 L364.70,773.13 L366.20,773.13 L367.70,773.13 L369.20,773.13 L370.70,773.13 L372.20,773.13 L373.70,773.13 L375.20,773.13 L376.70,773.13 L378.20,773.13 L379.70,773.13 L381.20,773.13 L382.70,773.13 L384.20,773.13 L385.70,773.13 L387.20,773.13 L388.70,773.13 L390.20,773.13 L391.70,773.13 L393.20,773.13 L394.70,773.13 L396.20,773.13 L397.70,773.13 L399.20,773.13 L400.70,773.13 L402.20,773.13 L403.70,773.13 L405.20,773.13 L406.70,773.13 L408.20,773.13 L409.70,773.13 L411.20,773.13 L412.70,773.13 L414.20,773.13 L415.70,773.13 L417.20,773.13 L418.70,773.13 L420.20,773.13 L421.70,773.13 L423.20,773.13 L424.70,773.13 L426.20,773.13" fill="none" stroke="#000" stroke-width="1.15" stroke-linejoin="round"/>
<path d="M145.10,743.00 L146.20,844.20 L146.20,844.29 L146.50,838.10 L146.80,832.53 L147.10,827.52 L147.40,823.02 L147.70,818.97 L148.00,815.32 L148.30,812.03 L148.60,809.07 L148.90,806.41 L149.20,804.00 L149.50,801.84 L149.80,799.88 L150.10,798.12 L150.40,796.52 L150.70,795.08 L151.00,793.78 L151.30,792.60 L151.60,791.53 L151.90,790.56 L152.20,789.68 L152.50,788.88 L152.80,788.16 L153.10,787.50 L153.40,786.90 L153.70,786.35 L154.00,785.85 L154.30,785.39 L154.60,784.97 L154.90,784.59 L155.20,784.23 L155.50,783.91 L155.80,783.61 L156.10,783.33 L156.40,783.08 L156.70,782.84 L157.00,782.62 L157.30,782.42 L157.60,782.23 L157.90,782.05 L158.20,781.88 L158.50,781.73 L158.80,781.58 L159.10,781.44 L159.40,781.31 L159.70,781.19 L160.00,781.07 L160.30,780.96 L160.60,780.86 L160.90,780.76 L161.20,780.67 L161.50,780.58 L161.80,780.49 L162.10,780.41 L162.40,780.33 L162.70,780.25 L163.00,780.18 L163.30,780.11 L163.60,780.04 L163.90,779.97 L164.20,779.91 L164.50,779.84 L164.80,779.78 L165.10,779.73 L165.40,779.67 L165.70,779.62 L166.00,779.56 L166.30,779.51 L166.60,779.46 L166.90,779.41 L167.20,779.36 L167.50,779.32 L167.80,779.27 L168.10,779.23 L168.40,779.18 L168.70,779.14 L169.00,779.10 L169.30,779.06 L169.60,779.02 L169.90,778.98 L170.20,778.94 L170.50,778.90 L170.80,778.87 L171.10,778.83 L171.20,778.82 L172.70,778.66 L174.20,778.51 L175.70,778.37 L177.20,778.25 L178.70,778.14 L180.20,778.04 L181.70,777.95 L183.20,777.86 L184.70,777.79 L186.20,777.72 L187.70,777.66 L189.20,777.60 L190.70,777.55 L192.20,777.50 L193.70,777.46 L195.20,777.42 L196.70,777.39 L198.20,777.36 L199.70,777.33 L201.20,777.30 L202.70,777.28 L204.20,777.26 L205.70,777.24 L207.20,777.22 L208.70,777.21 L210.20,777.19 L211.70,777.18 L213.20,777.17 L214.70,777.16 L216.20,777.15 L217.70,777.14 L219.20,777.13 L220.70,777.12 L222.20,777.12 L223.70,777.11 L225.20,777.10 L226.70,777.10 L228.20,777.09 L229.70,777.09 L231.20,777.09 L232.70,777.08 L234.20,777.08 L235.70,777.08 L237.20,777.07 L238.70,777.07 L240.20,777.07 L241.70,777.07 L243.20,777.07 L244.70,777.07 L246.20,777.06 L247.70,777.06 L249.20,777.06 L250.70,777.06 L252.20,777.06 L253.70,777.06 L255.20,777.06 L256.70,777.06 L258.20,777.06 L259.70,777.06 L261.20,777.06 L262.70,777.05 L264.20,777.05 L265.70,777.05 L267.20,777.05 L268.70,777.05 L270.20,777.05 L271.70,777.05 L273.20,777.05 L274.70,777.05 L276.20,777.05 L277.70,777.05 L279.20,777.05 L280.70,777.05 L282.20,777.05 L283.70,777.05 L285.20,777.05 L286.70,777.05 L288.20,777.05 L289.70,777.05 L291.20,777.05 L292.70,777.05 L294.20,777.05 L295.70,777.05 L297.20,777.05 L298.70,777.05 L300.20,777.05 L301.70,777.05 L303.20,777.05 L304.70,777.05 L306.20,777.05 L307.70,777.05 L309.20,777.05 L310.70,777.05 L312.20,777.05 L313.70,777.05 L315.20,777.05 L316.70,777.05 L318.20,777.05 L319.70,777.05 L321.20,777.05 L322.70,777.05 L324.20,777.05 L325.70,777.05 L327.20,777.05 L328.70,777.05 L330.20,777.05 L331.70,777.05 L333.20,777.05 L334.70,777.05 L336.20,777.05 L337.70,777.05 L339.20,777.05 L340.70,777.05 L342.20,777.05 L343.70,777.05 L345.20,777.05 L346.70,777.05 L348.20,777.05 L349.70,777.05 L351.20,777.05 L352.70,777.05 L354.20,777.05 L355.70,777.05 L357.20,777.05 L358.70,777.05 L360.20,777.05 L361.70,777.05 L363.20,777.05 L364.70,777.05 L366.20,777.05 L367.70,777.05 L369.20,777.05 L370.70,777.05 L372.20,777.05 L373.70,777.05 L375.20,777.05 L376.70,777.05 L378.20,777.05 L379.70,777.05 L381.20,777.05 L382.70,777.05 L384.20,777.05 L385.70,777.05 L387.20,777.05 L388.70,777.05 L390.20,777.05 L391.70,777.05 L393.20,777.05 L394.70,777.05 L396.20,777.05 L397.70,777.05 L399.20,777.05 L400.70,777.05 L402.20,777.05 L403.70,777.05 L405.20,777.05 L406.70,777.05 L408.20,777.05 L409.70,777.05 L411.20,777.05 L412.70,777.05 L414.20,777.05 L415.70,777.05 L417.20,777.05 L418.70,777.05 L420.20,777.05 L421.70,777.05 L423.20,777.05 L424.70,777.05 L426.20,777.05" fill="none" stroke="#000" stroke-width="1.15" stroke-linejoin="round"/>
<line x1="53.30" y1="762.00" x2="63.80" y2="762.00" stroke="#000" stroke-width="1.5"/>
<path d="M71.30,762.00 L63.30,759.10 L63.30,764.90 Z" fill="#000"/>
<text x="193.96" y="807.00" font-size="23.92" font-weight="normal" font-style="normal" fill="#000" textLength="127.98" lengthAdjust="spacingAndGlyphs">30 <tspan font-family="Liberation Serif">μ</tspan>M RPR</text>
<text x="448.02" y="473.10" font-size="42.01" font-weight="bold" font-style="normal" fill="#000" textLength="28.97" lengthAdjust="spacingAndGlyphs">D</text>
<path d="M538.6,485 V774.2 H896.2" fill="none" stroke="#000" stroke-width="1.8" stroke-linecap="square"/>
<line x1="533.10" y1="774.20" x2="538.60" y2="774.20" stroke="#000" stroke-width="1.8"/>
<line x1="535.10" y1="730.67" x2="538.60" y2="730.67" stroke="#000" stroke-width="1.8"/>
<line x1="535.10" y1="705.21" x2="538.60" y2="705.21" stroke="#000" stroke-width="1.8"/>
<line x1="535.10" y1="687.14" x2="538.60" y2="687.14" stroke="#000" stroke-width="1.8"/>
<line x1="535.10" y1="673.13" x2="538.60" y2="673.13" stroke="#000" stroke-width="1.8"/>
<line x1="535.10" y1="661.68" x2="538.60" y2="661.68" stroke="#000" stroke-width="1.8"/>
<line x1="535.10" y1="652.00" x2="538.60" y2="652.00" stroke="#000" stroke-width="1.8"/>
<line x1="535.10" y1="643.61" x2="538.60" y2="643.61" stroke="#000" stroke-width="1.8"/>
<line x1="535.10" y1="636.22" x2="538.60" y2="636.22" stroke="#000" stroke-width="1.8"/>
<line x1="533.10" y1="629.60" x2="538.60" y2="629.60" stroke="#000" stroke-width="1.8"/>
<line x1="535.10" y1="586.07" x2="538.60" y2="586.07" stroke="#000" stroke-width="1.8"/>
<line x1="535.10" y1="560.61" x2="538.60" y2="560.61" stroke="#000" stroke-width="1.8"/>
<line x1="535.10" y1="542.54" x2="538.60" y2="542.54" stroke="#000" stroke-width="1.8"/>
<line x1="535.10" y1="528.53" x2="538.60" y2="528.53" stroke="#000" stroke-width="1.8"/>
<line x1="535.10" y1="517.08" x2="538.60" y2="517.08" stroke="#000" stroke-width="1.8"/>
<line x1="535.10" y1="507.40" x2="538.60" y2="507.40" stroke="#000" stroke-width="1.8"/>
<line x1="535.10" y1="499.01" x2="538.60" y2="499.01" stroke="#000" stroke-width="1.8"/>
<line x1="535.10" y1="491.62" x2="538.60" y2="491.62" stroke="#000" stroke-width="1.8"/>
<line x1="533.10" y1="485.00" x2="538.60" y2="485.00" stroke="#000" stroke-width="1.8"/>
<text x="516.28" y="781.10" font-size="23.5" font-weight="normal" font-style="normal" fill="#000" textLength="11.09" lengthAdjust="spacingAndGlyphs">1</text>
<text x="501.65" y="636.50" font-size="23.5" font-weight="normal" font-style="normal" fill="#000" textLength="28.45" lengthAdjust="spacingAndGlyphs">10</text>
<text x="487.47" y="492.30" font-size="23.5" font-weight="normal" font-style="normal" fill="#000" textLength="42.32" lengthAdjust="spacingAndGlyphs">100</text>
<line x1="556.90" y1="774.20" x2="556.90" y2="779.80" stroke="#000" stroke-width="1.8"/>
<text x="530.74" y="802.60" font-size="23.5" font-weight="normal" font-style="normal" fill="#000" textLength="52.18" lengthAdjust="spacingAndGlyphs">-140</text>
<line x1="593.70" y1="774.20" x2="593.70" y2="777.40" stroke="#000" stroke-width="1.8"/>
<line x1="630.50" y1="774.20" x2="630.50" y2="779.80" stroke="#000" stroke-width="1.8"/>
<text x="604.34" y="802.60" font-size="23.5" font-weight="normal" font-style="normal" fill="#000" textLength="52.18" lengthAdjust="spacingAndGlyphs">-120</text>
<line x1="667.30" y1="774.20" x2="667.30" y2="777.40" stroke="#000" stroke-width="1.8"/>
<line x1="704.10" y1="774.20" x2="704.10" y2="779.80" stroke="#000" stroke-width="1.8"/>
<text x="677.94" y="802.60" font-size="23.5" font-weight="normal" font-style="normal" fill="#000" textLength="52.18" lengthAdjust="spacingAndGlyphs">-100</text>
<line x1="740.90" y1="774.20" x2="740.90" y2="777.40" stroke="#000" stroke-width="1.8"/>
<line x1="777.70" y1="774.20" x2="777.70" y2="779.80" stroke="#000" stroke-width="1.8"/>
<text x="758.90" y="802.60" font-size="23.5" font-weight="normal" font-style="normal" fill="#000" textLength="37.46" lengthAdjust="spacingAndGlyphs">-80</text>
<line x1="814.50" y1="774.20" x2="814.50" y2="777.40" stroke="#000" stroke-width="1.8"/>
<line x1="851.30" y1="774.20" x2="851.30" y2="779.80" stroke="#000" stroke-width="1.8"/>
<text x="832.50" y="802.60" font-size="23.5" font-weight="normal" font-style="normal" fill="#000" textLength="37.46" lengthAdjust="spacingAndGlyphs">-60</text>
<line x1="888.10" y1="774.20" x2="888.10" y2="777.40" stroke="#000" stroke-width="1.8"/>
<path d="M552.90,698.50 H560.90 M556.90,698.50 V717.50 M552.90,717.50 H560.90" fill="none" stroke="#000" stroke-width="1.6"/>
<circle cx="556.90" cy="708.00" r="6.0" fill="#000"/>
<path d="M589.70,681.50 H597.70 M593.70,681.50 V685.50 M589.70,685.50 H597.70" fill="none" stroke="#000" stroke-width="1.6"/>
<circle cx="593.70" cy="683.50" r="6.0" fill="#000"/>
<path d="M626.50,677.50 H634.50 M630.50,677.50 V693.50 M626.50,693.50 H634.50" fill="none" stroke="#000" stroke-width="1.6"/>
<circle cx="630.50" cy="685.50" r="6.0" fill="#000"/>
<path d="M663.30,658.50 H671.30 M667.30,658.50 V664.50 M663.30,664.50 H671.30" fill="none" stroke="#000" stroke-width="1.6"/>
<circle cx="667.30" cy="661.50" r="6.0" fill="#000"/>
<path d="M700.10,640.40 H708.10 M704.10,640.40 V648.40 M700.10,648.40 H708.10" fill="none" stroke="#000" stroke-width="1.6"/>
<circle cx="704.10" cy="644.40" r="6.0" fill="#000"/>
<path d="M773.70,605.50 H781.70 M777.70,605.50 V614.70 M773.70,614.70 H781.70" fill="none" stroke="#000" stroke-width="1.6"/>
<circle cx="777.70" cy="610.10" r="6.0" fill="#000"/>
<path d="M810.50,584.10 H818.50 M814.50,584.10 V598.10 M810.50,598.10 H818.50" fill="none" stroke="#000" stroke-width="1.6"/>
<circle cx="814.50" cy="591.10" r="6.0" fill="#000"/>
<path d="M847.30,543.70 H855.30 M851.30,543.70 V559.70 M847.30,559.70 H855.30" fill="none" stroke="#000" stroke-width="1.6"/>
<circle cx="851.30" cy="551.70" r="6.0" fill="#000"/>
<path d="M884.10,516.90 H892.10 M888.10,516.90 V529.50 M884.10,529.50 H892.10" fill="none" stroke="#000" stroke-width="1.6"/>
<circle cx="888.10" cy="523.20" r="6.0" fill="#000"/>
<path d="M552.90,699.10 H560.90 M556.90,699.10 V718.10 M552.90,718.10 H560.90" fill="none" stroke="#f00" stroke-width="1.6"/>
<circle cx="556.90" cy="708.60" r="6.0" fill="#f00"/>
<path d="M589.70,684.80 H597.70 M593.70,684.80 V688.80 M589.70,688.80 H597.70" fill="none" stroke="#f00" stroke-width="1.6"/>
<circle cx="593.70" cy="686.80" r="6.0" fill="#f00"/>
<path d="M626.50,677.70 H634.50 M630.50,677.70 V695.30 M626.50,695.30 H634.50" fill="none" stroke="#f00" stroke-width="1.6"/>
<circle cx="630.50" cy="686.50" r="6.0" fill="#f00"/>
<path d="M663.30,655.70 H671.30 M667.30,655.70 V667.70 M663.30,667.70 H671.30" fill="none" stroke="#f00" stroke-width="1.6"/>
<circle cx="667.30" cy="661.70" r="6.0" fill="#f00"/>
<path d="M700.10,630.90 H708.10 M704.10,630.90 V647.30 M700.10,647.30 H708.10" fill="none" stroke="#f00" stroke-width="1.6"/>
<circle cx="704.10" cy="639.10" r="6.0" fill="#f00"/>
<path d="M773.70,609.00 H781.70 M777.70,609.00 V624.00 M773.70,624.00 H781.70" fill="none" stroke="#f00" stroke-width="1.6"/>
<circle cx="777.70" cy="616.50" r="6.0" fill="#f00"/>
<path d="M810.50,587.60 H818.50 M814.50,587.60 V610.80 M810.50,610.80 H818.50" fill="none" stroke="#f00" stroke-width="1.6"/>
<circle cx="814.50" cy="599.20" r="6.0" fill="#f00"/>
<path d="M847.30,547.70 H855.30 M851.30,547.70 V571.70 M847.30,571.70 H855.30" fill="none" stroke="#f00" stroke-width="1.6"/>
<circle cx="851.30" cy="559.70" r="6.0" fill="#f00"/>
<path d="M884.10,523.50 H892.10 M888.10,523.50 V539.70 M884.10,539.70 H892.10" fill="none" stroke="#f00" stroke-width="1.6"/>
<circle cx="888.10" cy="531.60" r="6.0" fill="#f00"/>
<line x1="553.90" y1="708.60" x2="559.90" y2="708.60" stroke="#000" stroke-width="1.0" opacity="0.7"/>
<line x1="590.70" y1="686.80" x2="596.70" y2="686.80" stroke="#000" stroke-width="1.0" opacity="0.7"/>
<line x1="627.50" y1="686.50" x2="633.50" y2="686.50" stroke="#000" stroke-width="1.0" opacity="0.7"/>
<line x1="664.30" y1="661.70" x2="670.30" y2="661.70" stroke="#000" stroke-width="1.0" opacity="0.7"/>
<line x1="701.10" y1="639.10" x2="707.10" y2="639.10" stroke="#000" stroke-width="1.0" opacity="0.7"/>
<line x1="774.70" y1="616.50" x2="780.70" y2="616.50" stroke="#000" stroke-width="1.0" opacity="0.7"/>
<line x1="811.50" y1="599.20" x2="817.50" y2="599.20" stroke="#000" stroke-width="1.0" opacity="0.7"/>
<line x1="848.30" y1="559.70" x2="854.30" y2="559.70" stroke="#000" stroke-width="1.0" opacity="0.7"/>
<line x1="885.10" y1="531.60" x2="891.10" y2="531.60" stroke="#000" stroke-width="1.0" opacity="0.7"/>
<circle cx="601.4" cy="516.5" r="5.8" fill="#000"/>
<circle cx="601.4" cy="545.7" r="5.8" fill="#f00"/>
<text x="632.71" y="523.60" font-size="21.94" font-weight="normal" font-style="normal" fill="#000" textLength="69.95" lengthAdjust="spacingAndGlyphs">control</text>
<text x="631.72" y="552.50" font-size="21.48" font-weight="normal" font-style="normal" fill="#000" textLength="119.55" lengthAdjust="spacingAndGlyphs">30 <tspan font-family="Liberation Serif">μ</tspan>M RPR</text>
<g transform="rotate(-90)">
<text x="-675.71" y="479.30" font-size="28.39" font-weight="normal" font-style="italic" fill="#000" textLength="11.36" lengthAdjust="spacingAndGlyphs">τ</text>
<text x="-663.74" y="490.40" font-size="22" font-weight="normal" font-style="normal" fill="#000" textLength="54.91" lengthAdjust="spacingAndGlyphs">deact</text>
<text x="-601.92" y="478.60" font-size="25" font-weight="normal" font-style="normal" fill="#000" textLength="52.24" lengthAdjust="spacingAndGlyphs">(ms)</text>
</g>
<text x="676.14" y="833.20" font-size="23.84" font-weight="normal" font-style="italic" fill="#000" textLength="14.39" lengthAdjust="spacingAndGlyphs">V</text>
<text x="691.12" y="838.00" font-size="23" font-weight="normal" font-style="normal" fill="#000" textLength="27.75" lengthAdjust="spacingAndGlyphs">ret</text>
<text x="726.79" y="833.20" font-size="24.29" font-weight="normal" font-style="normal" fill="#000" textLength="56.22" lengthAdjust="spacingAndGlyphs">(mV)</text>
</svg></body></html>
